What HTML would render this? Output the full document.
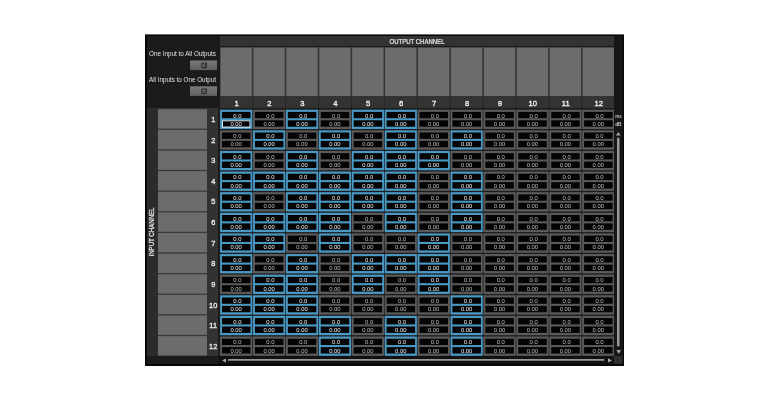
<!DOCTYPE html>
<html><head><meta charset="utf-8"><style>
html,body{margin:0;padding:0;background:#fff;width:770px;height:400px;overflow:hidden}
svg{display:block;font-family:"Liberation Sans",sans-serif;filter:blur(0.35px)}
</style></head><body>
<svg width="770" height="400" viewBox="0 0 770 400">
<defs><linearGradient id="btn" x1="0" y1="0" x2="0" y2="1"><stop offset="0" stop-color="#7a7a7a"/><stop offset="1" stop-color="#5e5e5e"/></linearGradient></defs>
<rect x="145" y="34.4" width="479" height="331.6" fill="#070707"/>
<rect x="147" y="36" width="475.5" height="328" fill="#1b1b1b"/>
<rect x="220" y="36" width="394" height="10" fill="#333333"/>
<text x="417" y="44" font-size="7" fill="#eeeeee" stroke="#e8e8e8" stroke-width="0.2" text-anchor="middle" textLength="55" lengthAdjust="spacingAndGlyphs">OUTPUT CHANNEL</text>
<rect x="220" y="47" width="394" height="49" fill="#343434"/>
<rect x="220" y="96" width="394" height="12" fill="#333333"/>
<rect x="220.5" y="47.6" width="31.32" height="48.4" fill="#6c6c6c"/>
<text x="236.56" y="105.7" font-size="7.6" fill="#eeeeee" stroke="#eeeeee" stroke-width="0.35" text-anchor="middle">1</text>
<rect x="253.42" y="47.6" width="31.32" height="48.4" fill="#6c6c6c"/>
<text x="269.48" y="105.7" font-size="7.6" fill="#eeeeee" stroke="#eeeeee" stroke-width="0.35" text-anchor="middle">2</text>
<rect x="252.42" y="96" width="0.8" height="12" fill="#262626"/>
<rect x="286.34" y="47.6" width="31.32" height="48.4" fill="#6c6c6c"/>
<text x="302.4" y="105.7" font-size="7.6" fill="#eeeeee" stroke="#eeeeee" stroke-width="0.35" text-anchor="middle">3</text>
<rect x="285.34" y="96" width="0.8" height="12" fill="#262626"/>
<rect x="319.26" y="47.6" width="31.32" height="48.4" fill="#6c6c6c"/>
<text x="335.32" y="105.7" font-size="7.6" fill="#eeeeee" stroke="#eeeeee" stroke-width="0.35" text-anchor="middle">4</text>
<rect x="318.26" y="96" width="0.8" height="12" fill="#262626"/>
<rect x="352.18" y="47.6" width="31.32" height="48.4" fill="#6c6c6c"/>
<text x="368.24" y="105.7" font-size="7.6" fill="#eeeeee" stroke="#eeeeee" stroke-width="0.35" text-anchor="middle">5</text>
<rect x="351.18" y="96" width="0.8" height="12" fill="#262626"/>
<rect x="385.1" y="47.6" width="31.32" height="48.4" fill="#6c6c6c"/>
<text x="401.16" y="105.7" font-size="7.6" fill="#eeeeee" stroke="#eeeeee" stroke-width="0.35" text-anchor="middle">6</text>
<rect x="384.1" y="96" width="0.8" height="12" fill="#262626"/>
<rect x="418.02" y="47.6" width="31.32" height="48.4" fill="#6c6c6c"/>
<text x="434.08" y="105.7" font-size="7.6" fill="#eeeeee" stroke="#eeeeee" stroke-width="0.35" text-anchor="middle">7</text>
<rect x="417.02" y="96" width="0.8" height="12" fill="#262626"/>
<rect x="450.94" y="47.6" width="31.32" height="48.4" fill="#6c6c6c"/>
<text x="467" y="105.7" font-size="7.6" fill="#eeeeee" stroke="#eeeeee" stroke-width="0.35" text-anchor="middle">8</text>
<rect x="449.94" y="96" width="0.8" height="12" fill="#262626"/>
<rect x="483.86" y="47.6" width="31.32" height="48.4" fill="#6c6c6c"/>
<text x="499.92" y="105.7" font-size="7.6" fill="#eeeeee" stroke="#eeeeee" stroke-width="0.35" text-anchor="middle">9</text>
<rect x="482.86" y="96" width="0.8" height="12" fill="#262626"/>
<rect x="516.78" y="47.6" width="31.32" height="48.4" fill="#6c6c6c"/>
<text x="532.84" y="105.7" font-size="7.6" fill="#eeeeee" stroke="#eeeeee" stroke-width="0.35" text-anchor="middle">10</text>
<rect x="515.78" y="96" width="0.8" height="12" fill="#262626"/>
<rect x="549.7" y="47.6" width="31.32" height="48.4" fill="#6c6c6c"/>
<text x="565.76" y="105.7" font-size="7.6" fill="#eeeeee" stroke="#eeeeee" stroke-width="0.35" text-anchor="middle">11</text>
<rect x="548.7" y="96" width="0.8" height="12" fill="#262626"/>
<rect x="582.62" y="47.6" width="31.32" height="48.4" fill="#6c6c6c"/>
<text x="598.68" y="105.7" font-size="7.6" fill="#eeeeee" stroke="#eeeeee" stroke-width="0.35" text-anchor="middle">12</text>
<rect x="581.62" y="96" width="0.8" height="12" fill="#262626"/>
<text x="216" y="56.3" font-size="7" fill="#e0e0e0" text-anchor="end" textLength="67" lengthAdjust="spacingAndGlyphs">One Input to All Outputs</text>
<text x="216" y="82.3" font-size="7" fill="#e0e0e0" text-anchor="end" textLength="67" lengthAdjust="spacingAndGlyphs">All Inputs to One Output</text>
<rect x="190" y="60.5" width="27" height="9.6" fill="url(#btn)"/>
<g stroke="#151515" stroke-width="0.85" fill="none"><path d="M204.3 63.2 h-2.4 v4.4 h4.4 v-2.4"/><path d="M203.9 66 l2.6 -2.6 M204.7 63 h1.8 v1.8"/></g>
<rect x="190" y="86.3" width="27" height="9.6" fill="url(#btn)"/>
<g stroke="#151515" stroke-width="0.85" fill="none"><path d="M204.3 89 h-2.4 v4.4 h4.4 v-2.4"/><path d="M203.9 91.8 l2.6 -2.6 M204.7 88.8 h1.8 v1.8"/></g>
<rect x="147" y="108" width="10.5" height="248" fill="#2b2b2b"/>
<text transform="translate(154.3 232) rotate(-90)" font-size="7" fill="#e8e8e8" stroke="#e8e8e8" stroke-width="0.25" text-anchor="middle" textLength="49" lengthAdjust="spacingAndGlyphs">INPUT CHANNEL</text>
<rect x="157.5" y="108" width="49.5" height="248" fill="#393939"/>
<rect x="207" y="108" width="11" height="248" fill="#323232"/>
<rect x="218" y="108" width="396" height="248" fill="#1c1c1c"/>
<rect x="158" y="109.3" width="49" height="19.32" fill="#6c6c6c"/>
<text x="213.2" y="122" font-size="7.4" fill="#e4e4e4" stroke="#e4e4e4" stroke-width="0.35" text-anchor="middle">1</text>
<rect x="220.1" y="109.7" width="32.2" height="19.3" fill="#4a98c4"/>
<rect x="222" y="111.9" width="28.5" height="6.3" fill="#040404"/>
<rect x="222" y="120.3" width="28.5" height="6.4" fill="#040404"/>
<text x="241.5" y="117.5" font-size="6.2" fill="#f2f2f2" text-anchor="end" textLength="8.2" lengthAdjust="spacingAndGlyphs">0.0</text>
<text x="241.8" y="125.7" font-size="6.2" fill="#f2f2f2" text-anchor="end" textLength="11.3" lengthAdjust="spacingAndGlyphs">0.00</text>
<rect x="253.02" y="109.7" width="32.2" height="19.3" fill="#5a5a5a"/>
<rect x="254.92" y="111.9" width="28.5" height="6.3" fill="#040404"/>
<rect x="254.92" y="120.3" width="28.5" height="6.4" fill="#040404"/>
<text x="274.42" y="117.5" font-size="6.2" fill="#c0c0c0" text-anchor="end" textLength="8.2" lengthAdjust="spacingAndGlyphs">0.0</text>
<text x="274.72" y="125.7" font-size="6.2" fill="#c0c0c0" text-anchor="end" textLength="11.3" lengthAdjust="spacingAndGlyphs">0.00</text>
<rect x="285.94" y="109.7" width="32.2" height="19.3" fill="#4a98c4"/>
<rect x="287.84" y="111.9" width="28.5" height="6.3" fill="#040404"/>
<rect x="287.84" y="120.3" width="28.5" height="6.4" fill="#040404"/>
<text x="307.34" y="117.5" font-size="6.2" fill="#f2f2f2" text-anchor="end" textLength="8.2" lengthAdjust="spacingAndGlyphs">0.0</text>
<text x="307.64" y="125.7" font-size="6.2" fill="#f2f2f2" text-anchor="end" textLength="11.3" lengthAdjust="spacingAndGlyphs">0.00</text>
<rect x="318.86" y="109.7" width="32.2" height="19.3" fill="#5a5a5a"/>
<rect x="320.76" y="111.9" width="28.5" height="6.3" fill="#040404"/>
<rect x="320.76" y="120.3" width="28.5" height="6.4" fill="#040404"/>
<text x="340.26" y="117.5" font-size="6.2" fill="#c0c0c0" text-anchor="end" textLength="8.2" lengthAdjust="spacingAndGlyphs">0.0</text>
<text x="340.56" y="125.7" font-size="6.2" fill="#c0c0c0" text-anchor="end" textLength="11.3" lengthAdjust="spacingAndGlyphs">0.00</text>
<rect x="351.78" y="109.7" width="32.2" height="19.3" fill="#4a98c4"/>
<rect x="353.68" y="111.9" width="28.5" height="6.3" fill="#040404"/>
<rect x="353.68" y="120.3" width="28.5" height="6.4" fill="#040404"/>
<text x="373.18" y="117.5" font-size="6.2" fill="#f2f2f2" text-anchor="end" textLength="8.2" lengthAdjust="spacingAndGlyphs">0.0</text>
<text x="373.48" y="125.7" font-size="6.2" fill="#f2f2f2" text-anchor="end" textLength="11.3" lengthAdjust="spacingAndGlyphs">0.00</text>
<rect x="384.7" y="109.7" width="32.2" height="19.3" fill="#4a98c4"/>
<rect x="386.6" y="111.9" width="28.5" height="6.3" fill="#040404"/>
<rect x="386.6" y="120.3" width="28.5" height="6.4" fill="#040404"/>
<text x="406.1" y="117.5" font-size="6.2" fill="#f2f2f2" text-anchor="end" textLength="8.2" lengthAdjust="spacingAndGlyphs">0.0</text>
<text x="406.4" y="125.7" font-size="6.2" fill="#f2f2f2" text-anchor="end" textLength="11.3" lengthAdjust="spacingAndGlyphs">0.00</text>
<rect x="417.62" y="109.7" width="32.2" height="19.3" fill="#5a5a5a"/>
<rect x="419.52" y="111.9" width="28.5" height="6.3" fill="#040404"/>
<rect x="419.52" y="120.3" width="28.5" height="6.4" fill="#040404"/>
<text x="439.02" y="117.5" font-size="6.2" fill="#c0c0c0" text-anchor="end" textLength="8.2" lengthAdjust="spacingAndGlyphs">0.0</text>
<text x="439.32" y="125.7" font-size="6.2" fill="#c0c0c0" text-anchor="end" textLength="11.3" lengthAdjust="spacingAndGlyphs">0.00</text>
<rect x="450.54" y="109.7" width="32.2" height="19.3" fill="#5a5a5a"/>
<rect x="452.44" y="111.9" width="28.5" height="6.3" fill="#040404"/>
<rect x="452.44" y="120.3" width="28.5" height="6.4" fill="#040404"/>
<text x="471.94" y="117.5" font-size="6.2" fill="#c0c0c0" text-anchor="end" textLength="8.2" lengthAdjust="spacingAndGlyphs">0.0</text>
<text x="472.24" y="125.7" font-size="6.2" fill="#c0c0c0" text-anchor="end" textLength="11.3" lengthAdjust="spacingAndGlyphs">0.00</text>
<rect x="483.46" y="109.7" width="32.2" height="19.3" fill="#5a5a5a"/>
<rect x="485.36" y="111.9" width="28.5" height="6.3" fill="#040404"/>
<rect x="485.36" y="120.3" width="28.5" height="6.4" fill="#040404"/>
<text x="504.86" y="117.5" font-size="6.2" fill="#c0c0c0" text-anchor="end" textLength="8.2" lengthAdjust="spacingAndGlyphs">0.0</text>
<text x="505.16" y="125.7" font-size="6.2" fill="#c0c0c0" text-anchor="end" textLength="11.3" lengthAdjust="spacingAndGlyphs">0.00</text>
<rect x="516.38" y="109.7" width="32.2" height="19.3" fill="#5a5a5a"/>
<rect x="518.28" y="111.9" width="28.5" height="6.3" fill="#040404"/>
<rect x="518.28" y="120.3" width="28.5" height="6.4" fill="#040404"/>
<text x="537.78" y="117.5" font-size="6.2" fill="#c0c0c0" text-anchor="end" textLength="8.2" lengthAdjust="spacingAndGlyphs">0.0</text>
<text x="538.08" y="125.7" font-size="6.2" fill="#c0c0c0" text-anchor="end" textLength="11.3" lengthAdjust="spacingAndGlyphs">0.00</text>
<rect x="549.3" y="109.7" width="32.2" height="19.3" fill="#5a5a5a"/>
<rect x="551.2" y="111.9" width="28.5" height="6.3" fill="#040404"/>
<rect x="551.2" y="120.3" width="28.5" height="6.4" fill="#040404"/>
<text x="570.7" y="117.5" font-size="6.2" fill="#c0c0c0" text-anchor="end" textLength="8.2" lengthAdjust="spacingAndGlyphs">0.0</text>
<text x="571" y="125.7" font-size="6.2" fill="#c0c0c0" text-anchor="end" textLength="11.3" lengthAdjust="spacingAndGlyphs">0.00</text>
<rect x="582.22" y="109.7" width="32.2" height="19.3" fill="#5a5a5a"/>
<rect x="584.12" y="111.9" width="28.5" height="6.3" fill="#040404"/>
<rect x="584.12" y="120.3" width="28.5" height="6.4" fill="#040404"/>
<text x="603.62" y="117.5" font-size="6.2" fill="#c0c0c0" text-anchor="end" textLength="8.2" lengthAdjust="spacingAndGlyphs">0.0</text>
<text x="603.92" y="125.7" font-size="6.2" fill="#c0c0c0" text-anchor="end" textLength="11.3" lengthAdjust="spacingAndGlyphs">0.00</text>
<rect x="158" y="129.92" width="49" height="19.32" fill="#6c6c6c"/>
<text x="213.2" y="142.62" font-size="7.4" fill="#e4e4e4" stroke="#e4e4e4" stroke-width="0.35" text-anchor="middle">2</text>
<rect x="220.1" y="130.32" width="32.2" height="19.3" fill="#5a5a5a"/>
<rect x="222" y="132.52" width="28.5" height="6.3" fill="#040404"/>
<rect x="222" y="140.92" width="28.5" height="6.4" fill="#040404"/>
<text x="241.5" y="138.12" font-size="6.2" fill="#c0c0c0" text-anchor="end" textLength="8.2" lengthAdjust="spacingAndGlyphs">0.0</text>
<text x="241.8" y="146.32" font-size="6.2" fill="#c0c0c0" text-anchor="end" textLength="11.3" lengthAdjust="spacingAndGlyphs">0.00</text>
<rect x="253.02" y="130.32" width="32.2" height="19.3" fill="#4a98c4"/>
<rect x="254.92" y="132.52" width="28.5" height="6.3" fill="#040404"/>
<rect x="254.92" y="140.92" width="28.5" height="6.4" fill="#040404"/>
<text x="274.42" y="138.12" font-size="6.2" fill="#f2f2f2" text-anchor="end" textLength="8.2" lengthAdjust="spacingAndGlyphs">0.0</text>
<text x="274.72" y="146.32" font-size="6.2" fill="#f2f2f2" text-anchor="end" textLength="11.3" lengthAdjust="spacingAndGlyphs">0.00</text>
<rect x="285.94" y="130.32" width="32.2" height="19.3" fill="#5a5a5a"/>
<rect x="287.84" y="132.52" width="28.5" height="6.3" fill="#040404"/>
<rect x="287.84" y="140.92" width="28.5" height="6.4" fill="#040404"/>
<text x="307.34" y="138.12" font-size="6.2" fill="#c0c0c0" text-anchor="end" textLength="8.2" lengthAdjust="spacingAndGlyphs">0.0</text>
<text x="307.64" y="146.32" font-size="6.2" fill="#c0c0c0" text-anchor="end" textLength="11.3" lengthAdjust="spacingAndGlyphs">0.00</text>
<rect x="318.86" y="130.32" width="32.2" height="19.3" fill="#4a98c4"/>
<rect x="320.76" y="132.52" width="28.5" height="6.3" fill="#040404"/>
<rect x="320.76" y="140.92" width="28.5" height="6.4" fill="#040404"/>
<text x="340.26" y="138.12" font-size="6.2" fill="#f2f2f2" text-anchor="end" textLength="8.2" lengthAdjust="spacingAndGlyphs">0.0</text>
<text x="340.56" y="146.32" font-size="6.2" fill="#f2f2f2" text-anchor="end" textLength="11.3" lengthAdjust="spacingAndGlyphs">0.00</text>
<rect x="351.78" y="130.32" width="32.2" height="19.3" fill="#5a5a5a"/>
<rect x="353.68" y="132.52" width="28.5" height="6.3" fill="#040404"/>
<rect x="353.68" y="140.92" width="28.5" height="6.4" fill="#040404"/>
<text x="373.18" y="138.12" font-size="6.2" fill="#c0c0c0" text-anchor="end" textLength="8.2" lengthAdjust="spacingAndGlyphs">0.0</text>
<text x="373.48" y="146.32" font-size="6.2" fill="#c0c0c0" text-anchor="end" textLength="11.3" lengthAdjust="spacingAndGlyphs">0.00</text>
<rect x="384.7" y="130.32" width="32.2" height="19.3" fill="#4a98c4"/>
<rect x="386.6" y="132.52" width="28.5" height="6.3" fill="#040404"/>
<rect x="386.6" y="140.92" width="28.5" height="6.4" fill="#040404"/>
<text x="406.1" y="138.12" font-size="6.2" fill="#f2f2f2" text-anchor="end" textLength="8.2" lengthAdjust="spacingAndGlyphs">0.0</text>
<text x="406.4" y="146.32" font-size="6.2" fill="#f2f2f2" text-anchor="end" textLength="11.3" lengthAdjust="spacingAndGlyphs">0.00</text>
<rect x="417.62" y="130.32" width="32.2" height="19.3" fill="#5a5a5a"/>
<rect x="419.52" y="132.52" width="28.5" height="6.3" fill="#040404"/>
<rect x="419.52" y="140.92" width="28.5" height="6.4" fill="#040404"/>
<text x="439.02" y="138.12" font-size="6.2" fill="#c0c0c0" text-anchor="end" textLength="8.2" lengthAdjust="spacingAndGlyphs">0.0</text>
<text x="439.32" y="146.32" font-size="6.2" fill="#c0c0c0" text-anchor="end" textLength="11.3" lengthAdjust="spacingAndGlyphs">0.00</text>
<rect x="450.54" y="130.32" width="32.2" height="19.3" fill="#4a98c4"/>
<rect x="452.44" y="132.52" width="28.5" height="6.3" fill="#040404"/>
<rect x="452.44" y="140.92" width="28.5" height="6.4" fill="#040404"/>
<text x="471.94" y="138.12" font-size="6.2" fill="#f2f2f2" text-anchor="end" textLength="8.2" lengthAdjust="spacingAndGlyphs">0.0</text>
<text x="472.24" y="146.32" font-size="6.2" fill="#f2f2f2" text-anchor="end" textLength="11.3" lengthAdjust="spacingAndGlyphs">0.00</text>
<rect x="483.46" y="130.32" width="32.2" height="19.3" fill="#5a5a5a"/>
<rect x="485.36" y="132.52" width="28.5" height="6.3" fill="#040404"/>
<rect x="485.36" y="140.92" width="28.5" height="6.4" fill="#040404"/>
<text x="504.86" y="138.12" font-size="6.2" fill="#c0c0c0" text-anchor="end" textLength="8.2" lengthAdjust="spacingAndGlyphs">0.0</text>
<text x="505.16" y="146.32" font-size="6.2" fill="#c0c0c0" text-anchor="end" textLength="11.3" lengthAdjust="spacingAndGlyphs">0.00</text>
<rect x="516.38" y="130.32" width="32.2" height="19.3" fill="#5a5a5a"/>
<rect x="518.28" y="132.52" width="28.5" height="6.3" fill="#040404"/>
<rect x="518.28" y="140.92" width="28.5" height="6.4" fill="#040404"/>
<text x="537.78" y="138.12" font-size="6.2" fill="#c0c0c0" text-anchor="end" textLength="8.2" lengthAdjust="spacingAndGlyphs">0.0</text>
<text x="538.08" y="146.32" font-size="6.2" fill="#c0c0c0" text-anchor="end" textLength="11.3" lengthAdjust="spacingAndGlyphs">0.00</text>
<rect x="549.3" y="130.32" width="32.2" height="19.3" fill="#5a5a5a"/>
<rect x="551.2" y="132.52" width="28.5" height="6.3" fill="#040404"/>
<rect x="551.2" y="140.92" width="28.5" height="6.4" fill="#040404"/>
<text x="570.7" y="138.12" font-size="6.2" fill="#c0c0c0" text-anchor="end" textLength="8.2" lengthAdjust="spacingAndGlyphs">0.0</text>
<text x="571" y="146.32" font-size="6.2" fill="#c0c0c0" text-anchor="end" textLength="11.3" lengthAdjust="spacingAndGlyphs">0.00</text>
<rect x="582.22" y="130.32" width="32.2" height="19.3" fill="#5a5a5a"/>
<rect x="584.12" y="132.52" width="28.5" height="6.3" fill="#040404"/>
<rect x="584.12" y="140.92" width="28.5" height="6.4" fill="#040404"/>
<text x="603.62" y="138.12" font-size="6.2" fill="#c0c0c0" text-anchor="end" textLength="8.2" lengthAdjust="spacingAndGlyphs">0.0</text>
<text x="603.92" y="146.32" font-size="6.2" fill="#c0c0c0" text-anchor="end" textLength="11.3" lengthAdjust="spacingAndGlyphs">0.00</text>
<rect x="158" y="150.54" width="49" height="19.32" fill="#6c6c6c"/>
<text x="213.2" y="163.24" font-size="7.4" fill="#e4e4e4" stroke="#e4e4e4" stroke-width="0.35" text-anchor="middle">3</text>
<rect x="220.1" y="150.94" width="32.2" height="19.3" fill="#4a98c4"/>
<rect x="222" y="153.14" width="28.5" height="6.3" fill="#040404"/>
<rect x="222" y="161.54" width="28.5" height="6.4" fill="#040404"/>
<text x="241.5" y="158.74" font-size="6.2" fill="#f2f2f2" text-anchor="end" textLength="8.2" lengthAdjust="spacingAndGlyphs">0.0</text>
<text x="241.8" y="166.94" font-size="6.2" fill="#f2f2f2" text-anchor="end" textLength="11.3" lengthAdjust="spacingAndGlyphs">0.00</text>
<rect x="253.02" y="150.94" width="32.2" height="19.3" fill="#5a5a5a"/>
<rect x="254.92" y="153.14" width="28.5" height="6.3" fill="#040404"/>
<rect x="254.92" y="161.54" width="28.5" height="6.4" fill="#040404"/>
<text x="274.42" y="158.74" font-size="6.2" fill="#c0c0c0" text-anchor="end" textLength="8.2" lengthAdjust="spacingAndGlyphs">0.0</text>
<text x="274.72" y="166.94" font-size="6.2" fill="#c0c0c0" text-anchor="end" textLength="11.3" lengthAdjust="spacingAndGlyphs">0.00</text>
<rect x="285.94" y="150.94" width="32.2" height="19.3" fill="#4a98c4"/>
<rect x="287.84" y="153.14" width="28.5" height="6.3" fill="#040404"/>
<rect x="287.84" y="161.54" width="28.5" height="6.4" fill="#040404"/>
<text x="307.34" y="158.74" font-size="6.2" fill="#f2f2f2" text-anchor="end" textLength="8.2" lengthAdjust="spacingAndGlyphs">0.0</text>
<text x="307.64" y="166.94" font-size="6.2" fill="#f2f2f2" text-anchor="end" textLength="11.3" lengthAdjust="spacingAndGlyphs">0.00</text>
<rect x="318.86" y="150.94" width="32.2" height="19.3" fill="#5a5a5a"/>
<rect x="320.76" y="153.14" width="28.5" height="6.3" fill="#040404"/>
<rect x="320.76" y="161.54" width="28.5" height="6.4" fill="#040404"/>
<text x="340.26" y="158.74" font-size="6.2" fill="#c0c0c0" text-anchor="end" textLength="8.2" lengthAdjust="spacingAndGlyphs">0.0</text>
<text x="340.56" y="166.94" font-size="6.2" fill="#c0c0c0" text-anchor="end" textLength="11.3" lengthAdjust="spacingAndGlyphs">0.00</text>
<rect x="351.78" y="150.94" width="32.2" height="19.3" fill="#4a98c4"/>
<rect x="353.68" y="153.14" width="28.5" height="6.3" fill="#040404"/>
<rect x="353.68" y="161.54" width="28.5" height="6.4" fill="#040404"/>
<text x="373.18" y="158.74" font-size="6.2" fill="#f2f2f2" text-anchor="end" textLength="8.2" lengthAdjust="spacingAndGlyphs">0.0</text>
<text x="373.48" y="166.94" font-size="6.2" fill="#f2f2f2" text-anchor="end" textLength="11.3" lengthAdjust="spacingAndGlyphs">0.00</text>
<rect x="384.7" y="150.94" width="32.2" height="19.3" fill="#4a98c4"/>
<rect x="386.6" y="153.14" width="28.5" height="6.3" fill="#040404"/>
<rect x="386.6" y="161.54" width="28.5" height="6.4" fill="#040404"/>
<text x="406.1" y="158.74" font-size="6.2" fill="#f2f2f2" text-anchor="end" textLength="8.2" lengthAdjust="spacingAndGlyphs">0.0</text>
<text x="406.4" y="166.94" font-size="6.2" fill="#f2f2f2" text-anchor="end" textLength="11.3" lengthAdjust="spacingAndGlyphs">0.00</text>
<rect x="417.62" y="150.94" width="32.2" height="19.3" fill="#4a98c4"/>
<rect x="419.52" y="153.14" width="28.5" height="6.3" fill="#040404"/>
<rect x="419.52" y="161.54" width="28.5" height="6.4" fill="#040404"/>
<text x="439.02" y="158.74" font-size="6.2" fill="#f2f2f2" text-anchor="end" textLength="8.2" lengthAdjust="spacingAndGlyphs">0.0</text>
<text x="439.32" y="166.94" font-size="6.2" fill="#f2f2f2" text-anchor="end" textLength="11.3" lengthAdjust="spacingAndGlyphs">0.00</text>
<rect x="450.54" y="150.94" width="32.2" height="19.3" fill="#5a5a5a"/>
<rect x="452.44" y="153.14" width="28.5" height="6.3" fill="#040404"/>
<rect x="452.44" y="161.54" width="28.5" height="6.4" fill="#040404"/>
<text x="471.94" y="158.74" font-size="6.2" fill="#c0c0c0" text-anchor="end" textLength="8.2" lengthAdjust="spacingAndGlyphs">0.0</text>
<text x="472.24" y="166.94" font-size="6.2" fill="#c0c0c0" text-anchor="end" textLength="11.3" lengthAdjust="spacingAndGlyphs">0.00</text>
<rect x="483.46" y="150.94" width="32.2" height="19.3" fill="#5a5a5a"/>
<rect x="485.36" y="153.14" width="28.5" height="6.3" fill="#040404"/>
<rect x="485.36" y="161.54" width="28.5" height="6.4" fill="#040404"/>
<text x="504.86" y="158.74" font-size="6.2" fill="#c0c0c0" text-anchor="end" textLength="8.2" lengthAdjust="spacingAndGlyphs">0.0</text>
<text x="505.16" y="166.94" font-size="6.2" fill="#c0c0c0" text-anchor="end" textLength="11.3" lengthAdjust="spacingAndGlyphs">0.00</text>
<rect x="516.38" y="150.94" width="32.2" height="19.3" fill="#5a5a5a"/>
<rect x="518.28" y="153.14" width="28.5" height="6.3" fill="#040404"/>
<rect x="518.28" y="161.54" width="28.5" height="6.4" fill="#040404"/>
<text x="537.78" y="158.74" font-size="6.2" fill="#c0c0c0" text-anchor="end" textLength="8.2" lengthAdjust="spacingAndGlyphs">0.0</text>
<text x="538.08" y="166.94" font-size="6.2" fill="#c0c0c0" text-anchor="end" textLength="11.3" lengthAdjust="spacingAndGlyphs">0.00</text>
<rect x="549.3" y="150.94" width="32.2" height="19.3" fill="#5a5a5a"/>
<rect x="551.2" y="153.14" width="28.5" height="6.3" fill="#040404"/>
<rect x="551.2" y="161.54" width="28.5" height="6.4" fill="#040404"/>
<text x="570.7" y="158.74" font-size="6.2" fill="#c0c0c0" text-anchor="end" textLength="8.2" lengthAdjust="spacingAndGlyphs">0.0</text>
<text x="571" y="166.94" font-size="6.2" fill="#c0c0c0" text-anchor="end" textLength="11.3" lengthAdjust="spacingAndGlyphs">0.00</text>
<rect x="582.22" y="150.94" width="32.2" height="19.3" fill="#5a5a5a"/>
<rect x="584.12" y="153.14" width="28.5" height="6.3" fill="#040404"/>
<rect x="584.12" y="161.54" width="28.5" height="6.4" fill="#040404"/>
<text x="603.62" y="158.74" font-size="6.2" fill="#c0c0c0" text-anchor="end" textLength="8.2" lengthAdjust="spacingAndGlyphs">0.0</text>
<text x="603.92" y="166.94" font-size="6.2" fill="#c0c0c0" text-anchor="end" textLength="11.3" lengthAdjust="spacingAndGlyphs">0.00</text>
<rect x="158" y="171.16" width="49" height="19.32" fill="#6c6c6c"/>
<text x="213.2" y="183.86" font-size="7.4" fill="#e4e4e4" stroke="#e4e4e4" stroke-width="0.35" text-anchor="middle">4</text>
<rect x="220.1" y="171.56" width="32.2" height="19.3" fill="#4a98c4"/>
<rect x="222" y="173.76" width="28.5" height="6.3" fill="#040404"/>
<rect x="222" y="182.16" width="28.5" height="6.4" fill="#040404"/>
<text x="241.5" y="179.36" font-size="6.2" fill="#f2f2f2" text-anchor="end" textLength="8.2" lengthAdjust="spacingAndGlyphs">0.0</text>
<text x="241.8" y="187.56" font-size="6.2" fill="#f2f2f2" text-anchor="end" textLength="11.3" lengthAdjust="spacingAndGlyphs">0.00</text>
<rect x="253.02" y="171.56" width="32.2" height="19.3" fill="#4a98c4"/>
<rect x="254.92" y="173.76" width="28.5" height="6.3" fill="#040404"/>
<rect x="254.92" y="182.16" width="28.5" height="6.4" fill="#040404"/>
<text x="274.42" y="179.36" font-size="6.2" fill="#f2f2f2" text-anchor="end" textLength="8.2" lengthAdjust="spacingAndGlyphs">0.0</text>
<text x="274.72" y="187.56" font-size="6.2" fill="#f2f2f2" text-anchor="end" textLength="11.3" lengthAdjust="spacingAndGlyphs">0.00</text>
<rect x="285.94" y="171.56" width="32.2" height="19.3" fill="#4a98c4"/>
<rect x="287.84" y="173.76" width="28.5" height="6.3" fill="#040404"/>
<rect x="287.84" y="182.16" width="28.5" height="6.4" fill="#040404"/>
<text x="307.34" y="179.36" font-size="6.2" fill="#f2f2f2" text-anchor="end" textLength="8.2" lengthAdjust="spacingAndGlyphs">0.0</text>
<text x="307.64" y="187.56" font-size="6.2" fill="#f2f2f2" text-anchor="end" textLength="11.3" lengthAdjust="spacingAndGlyphs">0.00</text>
<rect x="318.86" y="171.56" width="32.2" height="19.3" fill="#4a98c4"/>
<rect x="320.76" y="173.76" width="28.5" height="6.3" fill="#040404"/>
<rect x="320.76" y="182.16" width="28.5" height="6.4" fill="#040404"/>
<text x="340.26" y="179.36" font-size="6.2" fill="#f2f2f2" text-anchor="end" textLength="8.2" lengthAdjust="spacingAndGlyphs">0.0</text>
<text x="340.56" y="187.56" font-size="6.2" fill="#f2f2f2" text-anchor="end" textLength="11.3" lengthAdjust="spacingAndGlyphs">0.00</text>
<rect x="351.78" y="171.56" width="32.2" height="19.3" fill="#4a98c4"/>
<rect x="353.68" y="173.76" width="28.5" height="6.3" fill="#040404"/>
<rect x="353.68" y="182.16" width="28.5" height="6.4" fill="#040404"/>
<text x="373.18" y="179.36" font-size="6.2" fill="#f2f2f2" text-anchor="end" textLength="8.2" lengthAdjust="spacingAndGlyphs">0.0</text>
<text x="373.48" y="187.56" font-size="6.2" fill="#f2f2f2" text-anchor="end" textLength="11.3" lengthAdjust="spacingAndGlyphs">0.00</text>
<rect x="384.7" y="171.56" width="32.2" height="19.3" fill="#4a98c4"/>
<rect x="386.6" y="173.76" width="28.5" height="6.3" fill="#040404"/>
<rect x="386.6" y="182.16" width="28.5" height="6.4" fill="#040404"/>
<text x="406.1" y="179.36" font-size="6.2" fill="#f2f2f2" text-anchor="end" textLength="8.2" lengthAdjust="spacingAndGlyphs">0.0</text>
<text x="406.4" y="187.56" font-size="6.2" fill="#f2f2f2" text-anchor="end" textLength="11.3" lengthAdjust="spacingAndGlyphs">0.00</text>
<rect x="417.62" y="171.56" width="32.2" height="19.3" fill="#5a5a5a"/>
<rect x="419.52" y="173.76" width="28.5" height="6.3" fill="#040404"/>
<rect x="419.52" y="182.16" width="28.5" height="6.4" fill="#040404"/>
<text x="439.02" y="179.36" font-size="6.2" fill="#c0c0c0" text-anchor="end" textLength="8.2" lengthAdjust="spacingAndGlyphs">0.0</text>
<text x="439.32" y="187.56" font-size="6.2" fill="#c0c0c0" text-anchor="end" textLength="11.3" lengthAdjust="spacingAndGlyphs">0.00</text>
<rect x="450.54" y="171.56" width="32.2" height="19.3" fill="#4a98c4"/>
<rect x="452.44" y="173.76" width="28.5" height="6.3" fill="#040404"/>
<rect x="452.44" y="182.16" width="28.5" height="6.4" fill="#040404"/>
<text x="471.94" y="179.36" font-size="6.2" fill="#f2f2f2" text-anchor="end" textLength="8.2" lengthAdjust="spacingAndGlyphs">0.0</text>
<text x="472.24" y="187.56" font-size="6.2" fill="#f2f2f2" text-anchor="end" textLength="11.3" lengthAdjust="spacingAndGlyphs">0.00</text>
<rect x="483.46" y="171.56" width="32.2" height="19.3" fill="#5a5a5a"/>
<rect x="485.36" y="173.76" width="28.5" height="6.3" fill="#040404"/>
<rect x="485.36" y="182.16" width="28.5" height="6.4" fill="#040404"/>
<text x="504.86" y="179.36" font-size="6.2" fill="#c0c0c0" text-anchor="end" textLength="8.2" lengthAdjust="spacingAndGlyphs">0.0</text>
<text x="505.16" y="187.56" font-size="6.2" fill="#c0c0c0" text-anchor="end" textLength="11.3" lengthAdjust="spacingAndGlyphs">0.00</text>
<rect x="516.38" y="171.56" width="32.2" height="19.3" fill="#5a5a5a"/>
<rect x="518.28" y="173.76" width="28.5" height="6.3" fill="#040404"/>
<rect x="518.28" y="182.16" width="28.5" height="6.4" fill="#040404"/>
<text x="537.78" y="179.36" font-size="6.2" fill="#c0c0c0" text-anchor="end" textLength="8.2" lengthAdjust="spacingAndGlyphs">0.0</text>
<text x="538.08" y="187.56" font-size="6.2" fill="#c0c0c0" text-anchor="end" textLength="11.3" lengthAdjust="spacingAndGlyphs">0.00</text>
<rect x="549.3" y="171.56" width="32.2" height="19.3" fill="#5a5a5a"/>
<rect x="551.2" y="173.76" width="28.5" height="6.3" fill="#040404"/>
<rect x="551.2" y="182.16" width="28.5" height="6.4" fill="#040404"/>
<text x="570.7" y="179.36" font-size="6.2" fill="#c0c0c0" text-anchor="end" textLength="8.2" lengthAdjust="spacingAndGlyphs">0.0</text>
<text x="571" y="187.56" font-size="6.2" fill="#c0c0c0" text-anchor="end" textLength="11.3" lengthAdjust="spacingAndGlyphs">0.00</text>
<rect x="582.22" y="171.56" width="32.2" height="19.3" fill="#5a5a5a"/>
<rect x="584.12" y="173.76" width="28.5" height="6.3" fill="#040404"/>
<rect x="584.12" y="182.16" width="28.5" height="6.4" fill="#040404"/>
<text x="603.62" y="179.36" font-size="6.2" fill="#c0c0c0" text-anchor="end" textLength="8.2" lengthAdjust="spacingAndGlyphs">0.0</text>
<text x="603.92" y="187.56" font-size="6.2" fill="#c0c0c0" text-anchor="end" textLength="11.3" lengthAdjust="spacingAndGlyphs">0.00</text>
<rect x="158" y="191.78" width="49" height="19.32" fill="#6c6c6c"/>
<text x="213.2" y="204.48" font-size="7.4" fill="#e4e4e4" stroke="#e4e4e4" stroke-width="0.35" text-anchor="middle">5</text>
<rect x="220.1" y="192.18" width="32.2" height="19.3" fill="#4a98c4"/>
<rect x="222" y="194.38" width="28.5" height="6.3" fill="#040404"/>
<rect x="222" y="202.78" width="28.5" height="6.4" fill="#040404"/>
<text x="241.5" y="199.98" font-size="6.2" fill="#f2f2f2" text-anchor="end" textLength="8.2" lengthAdjust="spacingAndGlyphs">0.0</text>
<text x="241.8" y="208.18" font-size="6.2" fill="#f2f2f2" text-anchor="end" textLength="11.3" lengthAdjust="spacingAndGlyphs">0.00</text>
<rect x="253.02" y="192.18" width="32.2" height="19.3" fill="#5a5a5a"/>
<rect x="254.92" y="194.38" width="28.5" height="6.3" fill="#040404"/>
<rect x="254.92" y="202.78" width="28.5" height="6.4" fill="#040404"/>
<text x="274.42" y="199.98" font-size="6.2" fill="#c0c0c0" text-anchor="end" textLength="8.2" lengthAdjust="spacingAndGlyphs">0.0</text>
<text x="274.72" y="208.18" font-size="6.2" fill="#c0c0c0" text-anchor="end" textLength="11.3" lengthAdjust="spacingAndGlyphs">0.00</text>
<rect x="285.94" y="192.18" width="32.2" height="19.3" fill="#4a98c4"/>
<rect x="287.84" y="194.38" width="28.5" height="6.3" fill="#040404"/>
<rect x="287.84" y="202.78" width="28.5" height="6.4" fill="#040404"/>
<text x="307.34" y="199.98" font-size="6.2" fill="#f2f2f2" text-anchor="end" textLength="8.2" lengthAdjust="spacingAndGlyphs">0.0</text>
<text x="307.64" y="208.18" font-size="6.2" fill="#f2f2f2" text-anchor="end" textLength="11.3" lengthAdjust="spacingAndGlyphs">0.00</text>
<rect x="318.86" y="192.18" width="32.2" height="19.3" fill="#4a98c4"/>
<rect x="320.76" y="194.38" width="28.5" height="6.3" fill="#040404"/>
<rect x="320.76" y="202.78" width="28.5" height="6.4" fill="#040404"/>
<text x="340.26" y="199.98" font-size="6.2" fill="#f2f2f2" text-anchor="end" textLength="8.2" lengthAdjust="spacingAndGlyphs">0.0</text>
<text x="340.56" y="208.18" font-size="6.2" fill="#f2f2f2" text-anchor="end" textLength="11.3" lengthAdjust="spacingAndGlyphs">0.00</text>
<rect x="351.78" y="192.18" width="32.2" height="19.3" fill="#4a98c4"/>
<rect x="353.68" y="194.38" width="28.5" height="6.3" fill="#040404"/>
<rect x="353.68" y="202.78" width="28.5" height="6.4" fill="#040404"/>
<text x="373.18" y="199.98" font-size="6.2" fill="#f2f2f2" text-anchor="end" textLength="8.2" lengthAdjust="spacingAndGlyphs">0.0</text>
<text x="373.48" y="208.18" font-size="6.2" fill="#f2f2f2" text-anchor="end" textLength="11.3" lengthAdjust="spacingAndGlyphs">0.00</text>
<rect x="384.7" y="192.18" width="32.2" height="19.3" fill="#4a98c4"/>
<rect x="386.6" y="194.38" width="28.5" height="6.3" fill="#040404"/>
<rect x="386.6" y="202.78" width="28.5" height="6.4" fill="#040404"/>
<text x="406.1" y="199.98" font-size="6.2" fill="#f2f2f2" text-anchor="end" textLength="8.2" lengthAdjust="spacingAndGlyphs">0.0</text>
<text x="406.4" y="208.18" font-size="6.2" fill="#f2f2f2" text-anchor="end" textLength="11.3" lengthAdjust="spacingAndGlyphs">0.00</text>
<rect x="417.62" y="192.18" width="32.2" height="19.3" fill="#5a5a5a"/>
<rect x="419.52" y="194.38" width="28.5" height="6.3" fill="#040404"/>
<rect x="419.52" y="202.78" width="28.5" height="6.4" fill="#040404"/>
<text x="439.02" y="199.98" font-size="6.2" fill="#c0c0c0" text-anchor="end" textLength="8.2" lengthAdjust="spacingAndGlyphs">0.0</text>
<text x="439.32" y="208.18" font-size="6.2" fill="#c0c0c0" text-anchor="end" textLength="11.3" lengthAdjust="spacingAndGlyphs">0.00</text>
<rect x="450.54" y="192.18" width="32.2" height="19.3" fill="#4a98c4"/>
<rect x="452.44" y="194.38" width="28.5" height="6.3" fill="#040404"/>
<rect x="452.44" y="202.78" width="28.5" height="6.4" fill="#040404"/>
<text x="471.94" y="199.98" font-size="6.2" fill="#f2f2f2" text-anchor="end" textLength="8.2" lengthAdjust="spacingAndGlyphs">0.0</text>
<text x="472.24" y="208.18" font-size="6.2" fill="#f2f2f2" text-anchor="end" textLength="11.3" lengthAdjust="spacingAndGlyphs">0.00</text>
<rect x="483.46" y="192.18" width="32.2" height="19.3" fill="#5a5a5a"/>
<rect x="485.36" y="194.38" width="28.5" height="6.3" fill="#040404"/>
<rect x="485.36" y="202.78" width="28.5" height="6.4" fill="#040404"/>
<text x="504.86" y="199.98" font-size="6.2" fill="#c0c0c0" text-anchor="end" textLength="8.2" lengthAdjust="spacingAndGlyphs">0.0</text>
<text x="505.16" y="208.18" font-size="6.2" fill="#c0c0c0" text-anchor="end" textLength="11.3" lengthAdjust="spacingAndGlyphs">0.00</text>
<rect x="516.38" y="192.18" width="32.2" height="19.3" fill="#5a5a5a"/>
<rect x="518.28" y="194.38" width="28.5" height="6.3" fill="#040404"/>
<rect x="518.28" y="202.78" width="28.5" height="6.4" fill="#040404"/>
<text x="537.78" y="199.98" font-size="6.2" fill="#c0c0c0" text-anchor="end" textLength="8.2" lengthAdjust="spacingAndGlyphs">0.0</text>
<text x="538.08" y="208.18" font-size="6.2" fill="#c0c0c0" text-anchor="end" textLength="11.3" lengthAdjust="spacingAndGlyphs">0.00</text>
<rect x="549.3" y="192.18" width="32.2" height="19.3" fill="#5a5a5a"/>
<rect x="551.2" y="194.38" width="28.5" height="6.3" fill="#040404"/>
<rect x="551.2" y="202.78" width="28.5" height="6.4" fill="#040404"/>
<text x="570.7" y="199.98" font-size="6.2" fill="#c0c0c0" text-anchor="end" textLength="8.2" lengthAdjust="spacingAndGlyphs">0.0</text>
<text x="571" y="208.18" font-size="6.2" fill="#c0c0c0" text-anchor="end" textLength="11.3" lengthAdjust="spacingAndGlyphs">0.00</text>
<rect x="582.22" y="192.18" width="32.2" height="19.3" fill="#5a5a5a"/>
<rect x="584.12" y="194.38" width="28.5" height="6.3" fill="#040404"/>
<rect x="584.12" y="202.78" width="28.5" height="6.4" fill="#040404"/>
<text x="603.62" y="199.98" font-size="6.2" fill="#c0c0c0" text-anchor="end" textLength="8.2" lengthAdjust="spacingAndGlyphs">0.0</text>
<text x="603.92" y="208.18" font-size="6.2" fill="#c0c0c0" text-anchor="end" textLength="11.3" lengthAdjust="spacingAndGlyphs">0.00</text>
<rect x="158" y="212.4" width="49" height="19.32" fill="#6c6c6c"/>
<text x="213.2" y="225.1" font-size="7.4" fill="#e4e4e4" stroke="#e4e4e4" stroke-width="0.35" text-anchor="middle">6</text>
<rect x="220.1" y="212.8" width="32.2" height="19.3" fill="#4a98c4"/>
<rect x="222" y="215" width="28.5" height="6.3" fill="#040404"/>
<rect x="222" y="223.4" width="28.5" height="6.4" fill="#040404"/>
<text x="241.5" y="220.6" font-size="6.2" fill="#f2f2f2" text-anchor="end" textLength="8.2" lengthAdjust="spacingAndGlyphs">0.0</text>
<text x="241.8" y="228.8" font-size="6.2" fill="#f2f2f2" text-anchor="end" textLength="11.3" lengthAdjust="spacingAndGlyphs">0.00</text>
<rect x="253.02" y="212.8" width="32.2" height="19.3" fill="#4a98c4"/>
<rect x="254.92" y="215" width="28.5" height="6.3" fill="#040404"/>
<rect x="254.92" y="223.4" width="28.5" height="6.4" fill="#040404"/>
<text x="274.42" y="220.6" font-size="6.2" fill="#f2f2f2" text-anchor="end" textLength="8.2" lengthAdjust="spacingAndGlyphs">0.0</text>
<text x="274.72" y="228.8" font-size="6.2" fill="#f2f2f2" text-anchor="end" textLength="11.3" lengthAdjust="spacingAndGlyphs">0.00</text>
<rect x="285.94" y="212.8" width="32.2" height="19.3" fill="#4a98c4"/>
<rect x="287.84" y="215" width="28.5" height="6.3" fill="#040404"/>
<rect x="287.84" y="223.4" width="28.5" height="6.4" fill="#040404"/>
<text x="307.34" y="220.6" font-size="6.2" fill="#f2f2f2" text-anchor="end" textLength="8.2" lengthAdjust="spacingAndGlyphs">0.0</text>
<text x="307.64" y="228.8" font-size="6.2" fill="#f2f2f2" text-anchor="end" textLength="11.3" lengthAdjust="spacingAndGlyphs">0.00</text>
<rect x="318.86" y="212.8" width="32.2" height="19.3" fill="#4a98c4"/>
<rect x="320.76" y="215" width="28.5" height="6.3" fill="#040404"/>
<rect x="320.76" y="223.4" width="28.5" height="6.4" fill="#040404"/>
<text x="340.26" y="220.6" font-size="6.2" fill="#f2f2f2" text-anchor="end" textLength="8.2" lengthAdjust="spacingAndGlyphs">0.0</text>
<text x="340.56" y="228.8" font-size="6.2" fill="#f2f2f2" text-anchor="end" textLength="11.3" lengthAdjust="spacingAndGlyphs">0.00</text>
<rect x="351.78" y="212.8" width="32.2" height="19.3" fill="#5a5a5a"/>
<rect x="353.68" y="215" width="28.5" height="6.3" fill="#040404"/>
<rect x="353.68" y="223.4" width="28.5" height="6.4" fill="#040404"/>
<text x="373.18" y="220.6" font-size="6.2" fill="#c0c0c0" text-anchor="end" textLength="8.2" lengthAdjust="spacingAndGlyphs">0.0</text>
<text x="373.48" y="228.8" font-size="6.2" fill="#c0c0c0" text-anchor="end" textLength="11.3" lengthAdjust="spacingAndGlyphs">0.00</text>
<rect x="384.7" y="212.8" width="32.2" height="19.3" fill="#4a98c4"/>
<rect x="386.6" y="215" width="28.5" height="6.3" fill="#040404"/>
<rect x="386.6" y="223.4" width="28.5" height="6.4" fill="#040404"/>
<text x="406.1" y="220.6" font-size="6.2" fill="#f2f2f2" text-anchor="end" textLength="8.2" lengthAdjust="spacingAndGlyphs">0.0</text>
<text x="406.4" y="228.8" font-size="6.2" fill="#f2f2f2" text-anchor="end" textLength="11.3" lengthAdjust="spacingAndGlyphs">0.00</text>
<rect x="417.62" y="212.8" width="32.2" height="19.3" fill="#5a5a5a"/>
<rect x="419.52" y="215" width="28.5" height="6.3" fill="#040404"/>
<rect x="419.52" y="223.4" width="28.5" height="6.4" fill="#040404"/>
<text x="439.02" y="220.6" font-size="6.2" fill="#c0c0c0" text-anchor="end" textLength="8.2" lengthAdjust="spacingAndGlyphs">0.0</text>
<text x="439.32" y="228.8" font-size="6.2" fill="#c0c0c0" text-anchor="end" textLength="11.3" lengthAdjust="spacingAndGlyphs">0.00</text>
<rect x="450.54" y="212.8" width="32.2" height="19.3" fill="#4a98c4"/>
<rect x="452.44" y="215" width="28.5" height="6.3" fill="#040404"/>
<rect x="452.44" y="223.4" width="28.5" height="6.4" fill="#040404"/>
<text x="471.94" y="220.6" font-size="6.2" fill="#f2f2f2" text-anchor="end" textLength="8.2" lengthAdjust="spacingAndGlyphs">0.0</text>
<text x="472.24" y="228.8" font-size="6.2" fill="#f2f2f2" text-anchor="end" textLength="11.3" lengthAdjust="spacingAndGlyphs">0.00</text>
<rect x="483.46" y="212.8" width="32.2" height="19.3" fill="#5a5a5a"/>
<rect x="485.36" y="215" width="28.5" height="6.3" fill="#040404"/>
<rect x="485.36" y="223.4" width="28.5" height="6.4" fill="#040404"/>
<text x="504.86" y="220.6" font-size="6.2" fill="#c0c0c0" text-anchor="end" textLength="8.2" lengthAdjust="spacingAndGlyphs">0.0</text>
<text x="505.16" y="228.8" font-size="6.2" fill="#c0c0c0" text-anchor="end" textLength="11.3" lengthAdjust="spacingAndGlyphs">0.00</text>
<rect x="516.38" y="212.8" width="32.2" height="19.3" fill="#5a5a5a"/>
<rect x="518.28" y="215" width="28.5" height="6.3" fill="#040404"/>
<rect x="518.28" y="223.4" width="28.5" height="6.4" fill="#040404"/>
<text x="537.78" y="220.6" font-size="6.2" fill="#c0c0c0" text-anchor="end" textLength="8.2" lengthAdjust="spacingAndGlyphs">0.0</text>
<text x="538.08" y="228.8" font-size="6.2" fill="#c0c0c0" text-anchor="end" textLength="11.3" lengthAdjust="spacingAndGlyphs">0.00</text>
<rect x="549.3" y="212.8" width="32.2" height="19.3" fill="#5a5a5a"/>
<rect x="551.2" y="215" width="28.5" height="6.3" fill="#040404"/>
<rect x="551.2" y="223.4" width="28.5" height="6.4" fill="#040404"/>
<text x="570.7" y="220.6" font-size="6.2" fill="#c0c0c0" text-anchor="end" textLength="8.2" lengthAdjust="spacingAndGlyphs">0.0</text>
<text x="571" y="228.8" font-size="6.2" fill="#c0c0c0" text-anchor="end" textLength="11.3" lengthAdjust="spacingAndGlyphs">0.00</text>
<rect x="582.22" y="212.8" width="32.2" height="19.3" fill="#5a5a5a"/>
<rect x="584.12" y="215" width="28.5" height="6.3" fill="#040404"/>
<rect x="584.12" y="223.4" width="28.5" height="6.4" fill="#040404"/>
<text x="603.62" y="220.6" font-size="6.2" fill="#c0c0c0" text-anchor="end" textLength="8.2" lengthAdjust="spacingAndGlyphs">0.0</text>
<text x="603.92" y="228.8" font-size="6.2" fill="#c0c0c0" text-anchor="end" textLength="11.3" lengthAdjust="spacingAndGlyphs">0.00</text>
<rect x="158" y="233.02" width="49" height="19.32" fill="#6c6c6c"/>
<text x="213.2" y="245.72" font-size="7.4" fill="#e4e4e4" stroke="#e4e4e4" stroke-width="0.35" text-anchor="middle">7</text>
<rect x="220.1" y="233.42" width="32.2" height="19.3" fill="#4a98c4"/>
<rect x="222" y="235.62" width="28.5" height="6.3" fill="#040404"/>
<rect x="222" y="244.02" width="28.5" height="6.4" fill="#040404"/>
<text x="241.5" y="241.22" font-size="6.2" fill="#f2f2f2" text-anchor="end" textLength="8.2" lengthAdjust="spacingAndGlyphs">0.0</text>
<text x="241.8" y="249.42" font-size="6.2" fill="#f2f2f2" text-anchor="end" textLength="11.3" lengthAdjust="spacingAndGlyphs">0.00</text>
<rect x="253.02" y="233.42" width="32.2" height="19.3" fill="#4a98c4"/>
<rect x="254.92" y="235.62" width="28.5" height="6.3" fill="#040404"/>
<rect x="254.92" y="244.02" width="28.5" height="6.4" fill="#040404"/>
<text x="274.42" y="241.22" font-size="6.2" fill="#f2f2f2" text-anchor="end" textLength="8.2" lengthAdjust="spacingAndGlyphs">0.0</text>
<text x="274.72" y="249.42" font-size="6.2" fill="#f2f2f2" text-anchor="end" textLength="11.3" lengthAdjust="spacingAndGlyphs">0.00</text>
<rect x="285.94" y="233.42" width="32.2" height="19.3" fill="#5a5a5a"/>
<rect x="287.84" y="235.62" width="28.5" height="6.3" fill="#040404"/>
<rect x="287.84" y="244.02" width="28.5" height="6.4" fill="#040404"/>
<text x="307.34" y="241.22" font-size="6.2" fill="#c0c0c0" text-anchor="end" textLength="8.2" lengthAdjust="spacingAndGlyphs">0.0</text>
<text x="307.64" y="249.42" font-size="6.2" fill="#c0c0c0" text-anchor="end" textLength="11.3" lengthAdjust="spacingAndGlyphs">0.00</text>
<rect x="318.86" y="233.42" width="32.2" height="19.3" fill="#4a98c4"/>
<rect x="320.76" y="235.62" width="28.5" height="6.3" fill="#040404"/>
<rect x="320.76" y="244.02" width="28.5" height="6.4" fill="#040404"/>
<text x="340.26" y="241.22" font-size="6.2" fill="#f2f2f2" text-anchor="end" textLength="8.2" lengthAdjust="spacingAndGlyphs">0.0</text>
<text x="340.56" y="249.42" font-size="6.2" fill="#f2f2f2" text-anchor="end" textLength="11.3" lengthAdjust="spacingAndGlyphs">0.00</text>
<rect x="351.78" y="233.42" width="32.2" height="19.3" fill="#5a5a5a"/>
<rect x="353.68" y="235.62" width="28.5" height="6.3" fill="#040404"/>
<rect x="353.68" y="244.02" width="28.5" height="6.4" fill="#040404"/>
<text x="373.18" y="241.22" font-size="6.2" fill="#c0c0c0" text-anchor="end" textLength="8.2" lengthAdjust="spacingAndGlyphs">0.0</text>
<text x="373.48" y="249.42" font-size="6.2" fill="#c0c0c0" text-anchor="end" textLength="11.3" lengthAdjust="spacingAndGlyphs">0.00</text>
<rect x="384.7" y="233.42" width="32.2" height="19.3" fill="#5a5a5a"/>
<rect x="386.6" y="235.62" width="28.5" height="6.3" fill="#040404"/>
<rect x="386.6" y="244.02" width="28.5" height="6.4" fill="#040404"/>
<text x="406.1" y="241.22" font-size="6.2" fill="#c0c0c0" text-anchor="end" textLength="8.2" lengthAdjust="spacingAndGlyphs">0.0</text>
<text x="406.4" y="249.42" font-size="6.2" fill="#c0c0c0" text-anchor="end" textLength="11.3" lengthAdjust="spacingAndGlyphs">0.00</text>
<rect x="417.62" y="233.42" width="32.2" height="19.3" fill="#4a98c4"/>
<rect x="419.52" y="235.62" width="28.5" height="6.3" fill="#040404"/>
<rect x="419.52" y="244.02" width="28.5" height="6.4" fill="#040404"/>
<text x="439.02" y="241.22" font-size="6.2" fill="#f2f2f2" text-anchor="end" textLength="8.2" lengthAdjust="spacingAndGlyphs">0.0</text>
<text x="439.32" y="249.42" font-size="6.2" fill="#f2f2f2" text-anchor="end" textLength="11.3" lengthAdjust="spacingAndGlyphs">0.00</text>
<rect x="450.54" y="233.42" width="32.2" height="19.3" fill="#5a5a5a"/>
<rect x="452.44" y="235.62" width="28.5" height="6.3" fill="#040404"/>
<rect x="452.44" y="244.02" width="28.5" height="6.4" fill="#040404"/>
<text x="471.94" y="241.22" font-size="6.2" fill="#c0c0c0" text-anchor="end" textLength="8.2" lengthAdjust="spacingAndGlyphs">0.0</text>
<text x="472.24" y="249.42" font-size="6.2" fill="#c0c0c0" text-anchor="end" textLength="11.3" lengthAdjust="spacingAndGlyphs">0.00</text>
<rect x="483.46" y="233.42" width="32.2" height="19.3" fill="#5a5a5a"/>
<rect x="485.36" y="235.62" width="28.5" height="6.3" fill="#040404"/>
<rect x="485.36" y="244.02" width="28.5" height="6.4" fill="#040404"/>
<text x="504.86" y="241.22" font-size="6.2" fill="#c0c0c0" text-anchor="end" textLength="8.2" lengthAdjust="spacingAndGlyphs">0.0</text>
<text x="505.16" y="249.42" font-size="6.2" fill="#c0c0c0" text-anchor="end" textLength="11.3" lengthAdjust="spacingAndGlyphs">0.00</text>
<rect x="516.38" y="233.42" width="32.2" height="19.3" fill="#5a5a5a"/>
<rect x="518.28" y="235.62" width="28.5" height="6.3" fill="#040404"/>
<rect x="518.28" y="244.02" width="28.5" height="6.4" fill="#040404"/>
<text x="537.78" y="241.22" font-size="6.2" fill="#c0c0c0" text-anchor="end" textLength="8.2" lengthAdjust="spacingAndGlyphs">0.0</text>
<text x="538.08" y="249.42" font-size="6.2" fill="#c0c0c0" text-anchor="end" textLength="11.3" lengthAdjust="spacingAndGlyphs">0.00</text>
<rect x="549.3" y="233.42" width="32.2" height="19.3" fill="#5a5a5a"/>
<rect x="551.2" y="235.62" width="28.5" height="6.3" fill="#040404"/>
<rect x="551.2" y="244.02" width="28.5" height="6.4" fill="#040404"/>
<text x="570.7" y="241.22" font-size="6.2" fill="#c0c0c0" text-anchor="end" textLength="8.2" lengthAdjust="spacingAndGlyphs">0.0</text>
<text x="571" y="249.42" font-size="6.2" fill="#c0c0c0" text-anchor="end" textLength="11.3" lengthAdjust="spacingAndGlyphs">0.00</text>
<rect x="582.22" y="233.42" width="32.2" height="19.3" fill="#5a5a5a"/>
<rect x="584.12" y="235.62" width="28.5" height="6.3" fill="#040404"/>
<rect x="584.12" y="244.02" width="28.5" height="6.4" fill="#040404"/>
<text x="603.62" y="241.22" font-size="6.2" fill="#c0c0c0" text-anchor="end" textLength="8.2" lengthAdjust="spacingAndGlyphs">0.0</text>
<text x="603.92" y="249.42" font-size="6.2" fill="#c0c0c0" text-anchor="end" textLength="11.3" lengthAdjust="spacingAndGlyphs">0.00</text>
<rect x="158" y="253.64" width="49" height="19.32" fill="#6c6c6c"/>
<text x="213.2" y="266.34" font-size="7.4" fill="#e4e4e4" stroke="#e4e4e4" stroke-width="0.35" text-anchor="middle">8</text>
<rect x="220.1" y="254.04" width="32.2" height="19.3" fill="#4a98c4"/>
<rect x="222" y="256.24" width="28.5" height="6.3" fill="#040404"/>
<rect x="222" y="264.64" width="28.5" height="6.4" fill="#040404"/>
<text x="241.5" y="261.84" font-size="6.2" fill="#f2f2f2" text-anchor="end" textLength="8.2" lengthAdjust="spacingAndGlyphs">0.0</text>
<text x="241.8" y="270.04" font-size="6.2" fill="#f2f2f2" text-anchor="end" textLength="11.3" lengthAdjust="spacingAndGlyphs">0.00</text>
<rect x="253.02" y="254.04" width="32.2" height="19.3" fill="#5a5a5a"/>
<rect x="254.92" y="256.24" width="28.5" height="6.3" fill="#040404"/>
<rect x="254.92" y="264.64" width="28.5" height="6.4" fill="#040404"/>
<text x="274.42" y="261.84" font-size="6.2" fill="#c0c0c0" text-anchor="end" textLength="8.2" lengthAdjust="spacingAndGlyphs">0.0</text>
<text x="274.72" y="270.04" font-size="6.2" fill="#c0c0c0" text-anchor="end" textLength="11.3" lengthAdjust="spacingAndGlyphs">0.00</text>
<rect x="285.94" y="254.04" width="32.2" height="19.3" fill="#4a98c4"/>
<rect x="287.84" y="256.24" width="28.5" height="6.3" fill="#040404"/>
<rect x="287.84" y="264.64" width="28.5" height="6.4" fill="#040404"/>
<text x="307.34" y="261.84" font-size="6.2" fill="#f2f2f2" text-anchor="end" textLength="8.2" lengthAdjust="spacingAndGlyphs">0.0</text>
<text x="307.64" y="270.04" font-size="6.2" fill="#f2f2f2" text-anchor="end" textLength="11.3" lengthAdjust="spacingAndGlyphs">0.00</text>
<rect x="318.86" y="254.04" width="32.2" height="19.3" fill="#5a5a5a"/>
<rect x="320.76" y="256.24" width="28.5" height="6.3" fill="#040404"/>
<rect x="320.76" y="264.64" width="28.5" height="6.4" fill="#040404"/>
<text x="340.26" y="261.84" font-size="6.2" fill="#c0c0c0" text-anchor="end" textLength="8.2" lengthAdjust="spacingAndGlyphs">0.0</text>
<text x="340.56" y="270.04" font-size="6.2" fill="#c0c0c0" text-anchor="end" textLength="11.3" lengthAdjust="spacingAndGlyphs">0.00</text>
<rect x="351.78" y="254.04" width="32.2" height="19.3" fill="#4a98c4"/>
<rect x="353.68" y="256.24" width="28.5" height="6.3" fill="#040404"/>
<rect x="353.68" y="264.64" width="28.5" height="6.4" fill="#040404"/>
<text x="373.18" y="261.84" font-size="6.2" fill="#f2f2f2" text-anchor="end" textLength="8.2" lengthAdjust="spacingAndGlyphs">0.0</text>
<text x="373.48" y="270.04" font-size="6.2" fill="#f2f2f2" text-anchor="end" textLength="11.3" lengthAdjust="spacingAndGlyphs">0.00</text>
<rect x="384.7" y="254.04" width="32.2" height="19.3" fill="#4a98c4"/>
<rect x="386.6" y="256.24" width="28.5" height="6.3" fill="#040404"/>
<rect x="386.6" y="264.64" width="28.5" height="6.4" fill="#040404"/>
<text x="406.1" y="261.84" font-size="6.2" fill="#f2f2f2" text-anchor="end" textLength="8.2" lengthAdjust="spacingAndGlyphs">0.0</text>
<text x="406.4" y="270.04" font-size="6.2" fill="#f2f2f2" text-anchor="end" textLength="11.3" lengthAdjust="spacingAndGlyphs">0.00</text>
<rect x="417.62" y="254.04" width="32.2" height="19.3" fill="#4a98c4"/>
<rect x="419.52" y="256.24" width="28.5" height="6.3" fill="#040404"/>
<rect x="419.52" y="264.64" width="28.5" height="6.4" fill="#040404"/>
<text x="439.02" y="261.84" font-size="6.2" fill="#f2f2f2" text-anchor="end" textLength="8.2" lengthAdjust="spacingAndGlyphs">0.0</text>
<text x="439.32" y="270.04" font-size="6.2" fill="#f2f2f2" text-anchor="end" textLength="11.3" lengthAdjust="spacingAndGlyphs">0.00</text>
<rect x="450.54" y="254.04" width="32.2" height="19.3" fill="#5a5a5a"/>
<rect x="452.44" y="256.24" width="28.5" height="6.3" fill="#040404"/>
<rect x="452.44" y="264.64" width="28.5" height="6.4" fill="#040404"/>
<text x="471.94" y="261.84" font-size="6.2" fill="#c0c0c0" text-anchor="end" textLength="8.2" lengthAdjust="spacingAndGlyphs">0.0</text>
<text x="472.24" y="270.04" font-size="6.2" fill="#c0c0c0" text-anchor="end" textLength="11.3" lengthAdjust="spacingAndGlyphs">0.00</text>
<rect x="483.46" y="254.04" width="32.2" height="19.3" fill="#5a5a5a"/>
<rect x="485.36" y="256.24" width="28.5" height="6.3" fill="#040404"/>
<rect x="485.36" y="264.64" width="28.5" height="6.4" fill="#040404"/>
<text x="504.86" y="261.84" font-size="6.2" fill="#c0c0c0" text-anchor="end" textLength="8.2" lengthAdjust="spacingAndGlyphs">0.0</text>
<text x="505.16" y="270.04" font-size="6.2" fill="#c0c0c0" text-anchor="end" textLength="11.3" lengthAdjust="spacingAndGlyphs">0.00</text>
<rect x="516.38" y="254.04" width="32.2" height="19.3" fill="#5a5a5a"/>
<rect x="518.28" y="256.24" width="28.5" height="6.3" fill="#040404"/>
<rect x="518.28" y="264.64" width="28.5" height="6.4" fill="#040404"/>
<text x="537.78" y="261.84" font-size="6.2" fill="#c0c0c0" text-anchor="end" textLength="8.2" lengthAdjust="spacingAndGlyphs">0.0</text>
<text x="538.08" y="270.04" font-size="6.2" fill="#c0c0c0" text-anchor="end" textLength="11.3" lengthAdjust="spacingAndGlyphs">0.00</text>
<rect x="549.3" y="254.04" width="32.2" height="19.3" fill="#5a5a5a"/>
<rect x="551.2" y="256.24" width="28.5" height="6.3" fill="#040404"/>
<rect x="551.2" y="264.64" width="28.5" height="6.4" fill="#040404"/>
<text x="570.7" y="261.84" font-size="6.2" fill="#c0c0c0" text-anchor="end" textLength="8.2" lengthAdjust="spacingAndGlyphs">0.0</text>
<text x="571" y="270.04" font-size="6.2" fill="#c0c0c0" text-anchor="end" textLength="11.3" lengthAdjust="spacingAndGlyphs">0.00</text>
<rect x="582.22" y="254.04" width="32.2" height="19.3" fill="#5a5a5a"/>
<rect x="584.12" y="256.24" width="28.5" height="6.3" fill="#040404"/>
<rect x="584.12" y="264.64" width="28.5" height="6.4" fill="#040404"/>
<text x="603.62" y="261.84" font-size="6.2" fill="#c0c0c0" text-anchor="end" textLength="8.2" lengthAdjust="spacingAndGlyphs">0.0</text>
<text x="603.92" y="270.04" font-size="6.2" fill="#c0c0c0" text-anchor="end" textLength="11.3" lengthAdjust="spacingAndGlyphs">0.00</text>
<rect x="158" y="274.26" width="49" height="19.32" fill="#6c6c6c"/>
<text x="213.2" y="286.96" font-size="7.4" fill="#e4e4e4" stroke="#e4e4e4" stroke-width="0.35" text-anchor="middle">9</text>
<rect x="220.1" y="274.66" width="32.2" height="19.3" fill="#5a5a5a"/>
<rect x="222" y="276.86" width="28.5" height="6.3" fill="#040404"/>
<rect x="222" y="285.26" width="28.5" height="6.4" fill="#040404"/>
<text x="241.5" y="282.46" font-size="6.2" fill="#c0c0c0" text-anchor="end" textLength="8.2" lengthAdjust="spacingAndGlyphs">0.0</text>
<text x="241.8" y="290.66" font-size="6.2" fill="#c0c0c0" text-anchor="end" textLength="11.3" lengthAdjust="spacingAndGlyphs">0.00</text>
<rect x="253.02" y="274.66" width="32.2" height="19.3" fill="#4a98c4"/>
<rect x="254.92" y="276.86" width="28.5" height="6.3" fill="#040404"/>
<rect x="254.92" y="285.26" width="28.5" height="6.4" fill="#040404"/>
<text x="274.42" y="282.46" font-size="6.2" fill="#f2f2f2" text-anchor="end" textLength="8.2" lengthAdjust="spacingAndGlyphs">0.0</text>
<text x="274.72" y="290.66" font-size="6.2" fill="#f2f2f2" text-anchor="end" textLength="11.3" lengthAdjust="spacingAndGlyphs">0.00</text>
<rect x="285.94" y="274.66" width="32.2" height="19.3" fill="#4a98c4"/>
<rect x="287.84" y="276.86" width="28.5" height="6.3" fill="#040404"/>
<rect x="287.84" y="285.26" width="28.5" height="6.4" fill="#040404"/>
<text x="307.34" y="282.46" font-size="6.2" fill="#f2f2f2" text-anchor="end" textLength="8.2" lengthAdjust="spacingAndGlyphs">0.0</text>
<text x="307.64" y="290.66" font-size="6.2" fill="#f2f2f2" text-anchor="end" textLength="11.3" lengthAdjust="spacingAndGlyphs">0.00</text>
<rect x="318.86" y="274.66" width="32.2" height="19.3" fill="#5a5a5a"/>
<rect x="320.76" y="276.86" width="28.5" height="6.3" fill="#040404"/>
<rect x="320.76" y="285.26" width="28.5" height="6.4" fill="#040404"/>
<text x="340.26" y="282.46" font-size="6.2" fill="#c0c0c0" text-anchor="end" textLength="8.2" lengthAdjust="spacingAndGlyphs">0.0</text>
<text x="340.56" y="290.66" font-size="6.2" fill="#c0c0c0" text-anchor="end" textLength="11.3" lengthAdjust="spacingAndGlyphs">0.00</text>
<rect x="351.78" y="274.66" width="32.2" height="19.3" fill="#4a98c4"/>
<rect x="353.68" y="276.86" width="28.5" height="6.3" fill="#040404"/>
<rect x="353.68" y="285.26" width="28.5" height="6.4" fill="#040404"/>
<text x="373.18" y="282.46" font-size="6.2" fill="#f2f2f2" text-anchor="end" textLength="8.2" lengthAdjust="spacingAndGlyphs">0.0</text>
<text x="373.48" y="290.66" font-size="6.2" fill="#f2f2f2" text-anchor="end" textLength="11.3" lengthAdjust="spacingAndGlyphs">0.00</text>
<rect x="384.7" y="274.66" width="32.2" height="19.3" fill="#5a5a5a"/>
<rect x="386.6" y="276.86" width="28.5" height="6.3" fill="#040404"/>
<rect x="386.6" y="285.26" width="28.5" height="6.4" fill="#040404"/>
<text x="406.1" y="282.46" font-size="6.2" fill="#c0c0c0" text-anchor="end" textLength="8.2" lengthAdjust="spacingAndGlyphs">0.0</text>
<text x="406.4" y="290.66" font-size="6.2" fill="#c0c0c0" text-anchor="end" textLength="11.3" lengthAdjust="spacingAndGlyphs">0.00</text>
<rect x="417.62" y="274.66" width="32.2" height="19.3" fill="#4a98c4"/>
<rect x="419.52" y="276.86" width="28.5" height="6.3" fill="#040404"/>
<rect x="419.52" y="285.26" width="28.5" height="6.4" fill="#040404"/>
<text x="439.02" y="282.46" font-size="6.2" fill="#f2f2f2" text-anchor="end" textLength="8.2" lengthAdjust="spacingAndGlyphs">0.0</text>
<text x="439.32" y="290.66" font-size="6.2" fill="#f2f2f2" text-anchor="end" textLength="11.3" lengthAdjust="spacingAndGlyphs">0.00</text>
<rect x="450.54" y="274.66" width="32.2" height="19.3" fill="#5a5a5a"/>
<rect x="452.44" y="276.86" width="28.5" height="6.3" fill="#040404"/>
<rect x="452.44" y="285.26" width="28.5" height="6.4" fill="#040404"/>
<text x="471.94" y="282.46" font-size="6.2" fill="#c0c0c0" text-anchor="end" textLength="8.2" lengthAdjust="spacingAndGlyphs">0.0</text>
<text x="472.24" y="290.66" font-size="6.2" fill="#c0c0c0" text-anchor="end" textLength="11.3" lengthAdjust="spacingAndGlyphs">0.00</text>
<rect x="483.46" y="274.66" width="32.2" height="19.3" fill="#5a5a5a"/>
<rect x="485.36" y="276.86" width="28.5" height="6.3" fill="#040404"/>
<rect x="485.36" y="285.26" width="28.5" height="6.4" fill="#040404"/>
<text x="504.86" y="282.46" font-size="6.2" fill="#c0c0c0" text-anchor="end" textLength="8.2" lengthAdjust="spacingAndGlyphs">0.0</text>
<text x="505.16" y="290.66" font-size="6.2" fill="#c0c0c0" text-anchor="end" textLength="11.3" lengthAdjust="spacingAndGlyphs">0.00</text>
<rect x="516.38" y="274.66" width="32.2" height="19.3" fill="#5a5a5a"/>
<rect x="518.28" y="276.86" width="28.5" height="6.3" fill="#040404"/>
<rect x="518.28" y="285.26" width="28.5" height="6.4" fill="#040404"/>
<text x="537.78" y="282.46" font-size="6.2" fill="#c0c0c0" text-anchor="end" textLength="8.2" lengthAdjust="spacingAndGlyphs">0.0</text>
<text x="538.08" y="290.66" font-size="6.2" fill="#c0c0c0" text-anchor="end" textLength="11.3" lengthAdjust="spacingAndGlyphs">0.00</text>
<rect x="549.3" y="274.66" width="32.2" height="19.3" fill="#5a5a5a"/>
<rect x="551.2" y="276.86" width="28.5" height="6.3" fill="#040404"/>
<rect x="551.2" y="285.26" width="28.5" height="6.4" fill="#040404"/>
<text x="570.7" y="282.46" font-size="6.2" fill="#c0c0c0" text-anchor="end" textLength="8.2" lengthAdjust="spacingAndGlyphs">0.0</text>
<text x="571" y="290.66" font-size="6.2" fill="#c0c0c0" text-anchor="end" textLength="11.3" lengthAdjust="spacingAndGlyphs">0.00</text>
<rect x="582.22" y="274.66" width="32.2" height="19.3" fill="#5a5a5a"/>
<rect x="584.12" y="276.86" width="28.5" height="6.3" fill="#040404"/>
<rect x="584.12" y="285.26" width="28.5" height="6.4" fill="#040404"/>
<text x="603.62" y="282.46" font-size="6.2" fill="#c0c0c0" text-anchor="end" textLength="8.2" lengthAdjust="spacingAndGlyphs">0.0</text>
<text x="603.92" y="290.66" font-size="6.2" fill="#c0c0c0" text-anchor="end" textLength="11.3" lengthAdjust="spacingAndGlyphs">0.00</text>
<rect x="158" y="294.88" width="49" height="19.32" fill="#6c6c6c"/>
<text x="213.2" y="307.58" font-size="7.4" fill="#e4e4e4" stroke="#e4e4e4" stroke-width="0.35" text-anchor="middle">10</text>
<rect x="220.1" y="295.28" width="32.2" height="19.3" fill="#4a98c4"/>
<rect x="222" y="297.48" width="28.5" height="6.3" fill="#040404"/>
<rect x="222" y="305.88" width="28.5" height="6.4" fill="#040404"/>
<text x="241.5" y="303.08" font-size="6.2" fill="#f2f2f2" text-anchor="end" textLength="8.2" lengthAdjust="spacingAndGlyphs">0.0</text>
<text x="241.8" y="311.28" font-size="6.2" fill="#f2f2f2" text-anchor="end" textLength="11.3" lengthAdjust="spacingAndGlyphs">0.00</text>
<rect x="253.02" y="295.28" width="32.2" height="19.3" fill="#4a98c4"/>
<rect x="254.92" y="297.48" width="28.5" height="6.3" fill="#040404"/>
<rect x="254.92" y="305.88" width="28.5" height="6.4" fill="#040404"/>
<text x="274.42" y="303.08" font-size="6.2" fill="#f2f2f2" text-anchor="end" textLength="8.2" lengthAdjust="spacingAndGlyphs">0.0</text>
<text x="274.72" y="311.28" font-size="6.2" fill="#f2f2f2" text-anchor="end" textLength="11.3" lengthAdjust="spacingAndGlyphs">0.00</text>
<rect x="285.94" y="295.28" width="32.2" height="19.3" fill="#4a98c4"/>
<rect x="287.84" y="297.48" width="28.5" height="6.3" fill="#040404"/>
<rect x="287.84" y="305.88" width="28.5" height="6.4" fill="#040404"/>
<text x="307.34" y="303.08" font-size="6.2" fill="#f2f2f2" text-anchor="end" textLength="8.2" lengthAdjust="spacingAndGlyphs">0.0</text>
<text x="307.64" y="311.28" font-size="6.2" fill="#f2f2f2" text-anchor="end" textLength="11.3" lengthAdjust="spacingAndGlyphs">0.00</text>
<rect x="318.86" y="295.28" width="32.2" height="19.3" fill="#5a5a5a"/>
<rect x="320.76" y="297.48" width="28.5" height="6.3" fill="#040404"/>
<rect x="320.76" y="305.88" width="28.5" height="6.4" fill="#040404"/>
<text x="340.26" y="303.08" font-size="6.2" fill="#c0c0c0" text-anchor="end" textLength="8.2" lengthAdjust="spacingAndGlyphs">0.0</text>
<text x="340.56" y="311.28" font-size="6.2" fill="#c0c0c0" text-anchor="end" textLength="11.3" lengthAdjust="spacingAndGlyphs">0.00</text>
<rect x="351.78" y="295.28" width="32.2" height="19.3" fill="#5a5a5a"/>
<rect x="353.68" y="297.48" width="28.5" height="6.3" fill="#040404"/>
<rect x="353.68" y="305.88" width="28.5" height="6.4" fill="#040404"/>
<text x="373.18" y="303.08" font-size="6.2" fill="#c0c0c0" text-anchor="end" textLength="8.2" lengthAdjust="spacingAndGlyphs">0.0</text>
<text x="373.48" y="311.28" font-size="6.2" fill="#c0c0c0" text-anchor="end" textLength="11.3" lengthAdjust="spacingAndGlyphs">0.00</text>
<rect x="384.7" y="295.28" width="32.2" height="19.3" fill="#5a5a5a"/>
<rect x="386.6" y="297.48" width="28.5" height="6.3" fill="#040404"/>
<rect x="386.6" y="305.88" width="28.5" height="6.4" fill="#040404"/>
<text x="406.1" y="303.08" font-size="6.2" fill="#c0c0c0" text-anchor="end" textLength="8.2" lengthAdjust="spacingAndGlyphs">0.0</text>
<text x="406.4" y="311.28" font-size="6.2" fill="#c0c0c0" text-anchor="end" textLength="11.3" lengthAdjust="spacingAndGlyphs">0.00</text>
<rect x="417.62" y="295.28" width="32.2" height="19.3" fill="#5a5a5a"/>
<rect x="419.52" y="297.48" width="28.5" height="6.3" fill="#040404"/>
<rect x="419.52" y="305.88" width="28.5" height="6.4" fill="#040404"/>
<text x="439.02" y="303.08" font-size="6.2" fill="#c0c0c0" text-anchor="end" textLength="8.2" lengthAdjust="spacingAndGlyphs">0.0</text>
<text x="439.32" y="311.28" font-size="6.2" fill="#c0c0c0" text-anchor="end" textLength="11.3" lengthAdjust="spacingAndGlyphs">0.00</text>
<rect x="450.54" y="295.28" width="32.2" height="19.3" fill="#4a98c4"/>
<rect x="452.44" y="297.48" width="28.5" height="6.3" fill="#040404"/>
<rect x="452.44" y="305.88" width="28.5" height="6.4" fill="#040404"/>
<text x="471.94" y="303.08" font-size="6.2" fill="#f2f2f2" text-anchor="end" textLength="8.2" lengthAdjust="spacingAndGlyphs">0.0</text>
<text x="472.24" y="311.28" font-size="6.2" fill="#f2f2f2" text-anchor="end" textLength="11.3" lengthAdjust="spacingAndGlyphs">0.00</text>
<rect x="483.46" y="295.28" width="32.2" height="19.3" fill="#5a5a5a"/>
<rect x="485.36" y="297.48" width="28.5" height="6.3" fill="#040404"/>
<rect x="485.36" y="305.88" width="28.5" height="6.4" fill="#040404"/>
<text x="504.86" y="303.08" font-size="6.2" fill="#c0c0c0" text-anchor="end" textLength="8.2" lengthAdjust="spacingAndGlyphs">0.0</text>
<text x="505.16" y="311.28" font-size="6.2" fill="#c0c0c0" text-anchor="end" textLength="11.3" lengthAdjust="spacingAndGlyphs">0.00</text>
<rect x="516.38" y="295.28" width="32.2" height="19.3" fill="#5a5a5a"/>
<rect x="518.28" y="297.48" width="28.5" height="6.3" fill="#040404"/>
<rect x="518.28" y="305.88" width="28.5" height="6.4" fill="#040404"/>
<text x="537.78" y="303.08" font-size="6.2" fill="#c0c0c0" text-anchor="end" textLength="8.2" lengthAdjust="spacingAndGlyphs">0.0</text>
<text x="538.08" y="311.28" font-size="6.2" fill="#c0c0c0" text-anchor="end" textLength="11.3" lengthAdjust="spacingAndGlyphs">0.00</text>
<rect x="549.3" y="295.28" width="32.2" height="19.3" fill="#5a5a5a"/>
<rect x="551.2" y="297.48" width="28.5" height="6.3" fill="#040404"/>
<rect x="551.2" y="305.88" width="28.5" height="6.4" fill="#040404"/>
<text x="570.7" y="303.08" font-size="6.2" fill="#c0c0c0" text-anchor="end" textLength="8.2" lengthAdjust="spacingAndGlyphs">0.0</text>
<text x="571" y="311.28" font-size="6.2" fill="#c0c0c0" text-anchor="end" textLength="11.3" lengthAdjust="spacingAndGlyphs">0.00</text>
<rect x="582.22" y="295.28" width="32.2" height="19.3" fill="#5a5a5a"/>
<rect x="584.12" y="297.48" width="28.5" height="6.3" fill="#040404"/>
<rect x="584.12" y="305.88" width="28.5" height="6.4" fill="#040404"/>
<text x="603.62" y="303.08" font-size="6.2" fill="#c0c0c0" text-anchor="end" textLength="8.2" lengthAdjust="spacingAndGlyphs">0.0</text>
<text x="603.92" y="311.28" font-size="6.2" fill="#c0c0c0" text-anchor="end" textLength="11.3" lengthAdjust="spacingAndGlyphs">0.00</text>
<rect x="158" y="315.5" width="49" height="19.32" fill="#6c6c6c"/>
<text x="213.2" y="328.2" font-size="7.4" fill="#e4e4e4" stroke="#e4e4e4" stroke-width="0.35" text-anchor="middle">11</text>
<rect x="220.1" y="315.9" width="32.2" height="19.3" fill="#4a98c4"/>
<rect x="222" y="318.1" width="28.5" height="6.3" fill="#040404"/>
<rect x="222" y="326.5" width="28.5" height="6.4" fill="#040404"/>
<text x="241.5" y="323.7" font-size="6.2" fill="#f2f2f2" text-anchor="end" textLength="8.2" lengthAdjust="spacingAndGlyphs">0.0</text>
<text x="241.8" y="331.9" font-size="6.2" fill="#f2f2f2" text-anchor="end" textLength="11.3" lengthAdjust="spacingAndGlyphs">0.00</text>
<rect x="253.02" y="315.9" width="32.2" height="19.3" fill="#4a98c4"/>
<rect x="254.92" y="318.1" width="28.5" height="6.3" fill="#040404"/>
<rect x="254.92" y="326.5" width="28.5" height="6.4" fill="#040404"/>
<text x="274.42" y="323.7" font-size="6.2" fill="#f2f2f2" text-anchor="end" textLength="8.2" lengthAdjust="spacingAndGlyphs">0.0</text>
<text x="274.72" y="331.9" font-size="6.2" fill="#f2f2f2" text-anchor="end" textLength="11.3" lengthAdjust="spacingAndGlyphs">0.00</text>
<rect x="285.94" y="315.9" width="32.2" height="19.3" fill="#4a98c4"/>
<rect x="287.84" y="318.1" width="28.5" height="6.3" fill="#040404"/>
<rect x="287.84" y="326.5" width="28.5" height="6.4" fill="#040404"/>
<text x="307.34" y="323.7" font-size="6.2" fill="#f2f2f2" text-anchor="end" textLength="8.2" lengthAdjust="spacingAndGlyphs">0.0</text>
<text x="307.64" y="331.9" font-size="6.2" fill="#f2f2f2" text-anchor="end" textLength="11.3" lengthAdjust="spacingAndGlyphs">0.00</text>
<rect x="318.86" y="315.9" width="32.2" height="19.3" fill="#4a98c4"/>
<rect x="320.76" y="318.1" width="28.5" height="6.3" fill="#040404"/>
<rect x="320.76" y="326.5" width="28.5" height="6.4" fill="#040404"/>
<text x="340.26" y="323.7" font-size="6.2" fill="#f2f2f2" text-anchor="end" textLength="8.2" lengthAdjust="spacingAndGlyphs">0.0</text>
<text x="340.56" y="331.9" font-size="6.2" fill="#f2f2f2" text-anchor="end" textLength="11.3" lengthAdjust="spacingAndGlyphs">0.00</text>
<rect x="351.78" y="315.9" width="32.2" height="19.3" fill="#5a5a5a"/>
<rect x="353.68" y="318.1" width="28.5" height="6.3" fill="#040404"/>
<rect x="353.68" y="326.5" width="28.5" height="6.4" fill="#040404"/>
<text x="373.18" y="323.7" font-size="6.2" fill="#c0c0c0" text-anchor="end" textLength="8.2" lengthAdjust="spacingAndGlyphs">0.0</text>
<text x="373.48" y="331.9" font-size="6.2" fill="#c0c0c0" text-anchor="end" textLength="11.3" lengthAdjust="spacingAndGlyphs">0.00</text>
<rect x="384.7" y="315.9" width="32.2" height="19.3" fill="#4a98c4"/>
<rect x="386.6" y="318.1" width="28.5" height="6.3" fill="#040404"/>
<rect x="386.6" y="326.5" width="28.5" height="6.4" fill="#040404"/>
<text x="406.1" y="323.7" font-size="6.2" fill="#f2f2f2" text-anchor="end" textLength="8.2" lengthAdjust="spacingAndGlyphs">0.0</text>
<text x="406.4" y="331.9" font-size="6.2" fill="#f2f2f2" text-anchor="end" textLength="11.3" lengthAdjust="spacingAndGlyphs">0.00</text>
<rect x="417.62" y="315.9" width="32.2" height="19.3" fill="#5a5a5a"/>
<rect x="419.52" y="318.1" width="28.5" height="6.3" fill="#040404"/>
<rect x="419.52" y="326.5" width="28.5" height="6.4" fill="#040404"/>
<text x="439.02" y="323.7" font-size="6.2" fill="#c0c0c0" text-anchor="end" textLength="8.2" lengthAdjust="spacingAndGlyphs">0.0</text>
<text x="439.32" y="331.9" font-size="6.2" fill="#c0c0c0" text-anchor="end" textLength="11.3" lengthAdjust="spacingAndGlyphs">0.00</text>
<rect x="450.54" y="315.9" width="32.2" height="19.3" fill="#4a98c4"/>
<rect x="452.44" y="318.1" width="28.5" height="6.3" fill="#040404"/>
<rect x="452.44" y="326.5" width="28.5" height="6.4" fill="#040404"/>
<text x="471.94" y="323.7" font-size="6.2" fill="#f2f2f2" text-anchor="end" textLength="8.2" lengthAdjust="spacingAndGlyphs">0.0</text>
<text x="472.24" y="331.9" font-size="6.2" fill="#f2f2f2" text-anchor="end" textLength="11.3" lengthAdjust="spacingAndGlyphs">0.00</text>
<rect x="483.46" y="315.9" width="32.2" height="19.3" fill="#5a5a5a"/>
<rect x="485.36" y="318.1" width="28.5" height="6.3" fill="#040404"/>
<rect x="485.36" y="326.5" width="28.5" height="6.4" fill="#040404"/>
<text x="504.86" y="323.7" font-size="6.2" fill="#c0c0c0" text-anchor="end" textLength="8.2" lengthAdjust="spacingAndGlyphs">0.0</text>
<text x="505.16" y="331.9" font-size="6.2" fill="#c0c0c0" text-anchor="end" textLength="11.3" lengthAdjust="spacingAndGlyphs">0.00</text>
<rect x="516.38" y="315.9" width="32.2" height="19.3" fill="#5a5a5a"/>
<rect x="518.28" y="318.1" width="28.5" height="6.3" fill="#040404"/>
<rect x="518.28" y="326.5" width="28.5" height="6.4" fill="#040404"/>
<text x="537.78" y="323.7" font-size="6.2" fill="#c0c0c0" text-anchor="end" textLength="8.2" lengthAdjust="spacingAndGlyphs">0.0</text>
<text x="538.08" y="331.9" font-size="6.2" fill="#c0c0c0" text-anchor="end" textLength="11.3" lengthAdjust="spacingAndGlyphs">0.00</text>
<rect x="549.3" y="315.9" width="32.2" height="19.3" fill="#5a5a5a"/>
<rect x="551.2" y="318.1" width="28.5" height="6.3" fill="#040404"/>
<rect x="551.2" y="326.5" width="28.5" height="6.4" fill="#040404"/>
<text x="570.7" y="323.7" font-size="6.2" fill="#c0c0c0" text-anchor="end" textLength="8.2" lengthAdjust="spacingAndGlyphs">0.0</text>
<text x="571" y="331.9" font-size="6.2" fill="#c0c0c0" text-anchor="end" textLength="11.3" lengthAdjust="spacingAndGlyphs">0.00</text>
<rect x="582.22" y="315.9" width="32.2" height="19.3" fill="#5a5a5a"/>
<rect x="584.12" y="318.1" width="28.5" height="6.3" fill="#040404"/>
<rect x="584.12" y="326.5" width="28.5" height="6.4" fill="#040404"/>
<text x="603.62" y="323.7" font-size="6.2" fill="#c0c0c0" text-anchor="end" textLength="8.2" lengthAdjust="spacingAndGlyphs">0.0</text>
<text x="603.92" y="331.9" font-size="6.2" fill="#c0c0c0" text-anchor="end" textLength="11.3" lengthAdjust="spacingAndGlyphs">0.00</text>
<rect x="158" y="336.12" width="49" height="19.32" fill="#6c6c6c"/>
<text x="213.2" y="348.82" font-size="7.4" fill="#e4e4e4" stroke="#e4e4e4" stroke-width="0.35" text-anchor="middle">12</text>
<rect x="220.1" y="336.52" width="32.2" height="19.3" fill="#5a5a5a"/>
<rect x="222" y="338.72" width="28.5" height="6.3" fill="#040404"/>
<rect x="222" y="347.12" width="28.5" height="6.4" fill="#040404"/>
<text x="241.5" y="344.32" font-size="6.2" fill="#c0c0c0" text-anchor="end" textLength="8.2" lengthAdjust="spacingAndGlyphs">0.0</text>
<text x="241.8" y="352.52" font-size="6.2" fill="#c0c0c0" text-anchor="end" textLength="11.3" lengthAdjust="spacingAndGlyphs">0.00</text>
<rect x="253.02" y="336.52" width="32.2" height="19.3" fill="#5a5a5a"/>
<rect x="254.92" y="338.72" width="28.5" height="6.3" fill="#040404"/>
<rect x="254.92" y="347.12" width="28.5" height="6.4" fill="#040404"/>
<text x="274.42" y="344.32" font-size="6.2" fill="#c0c0c0" text-anchor="end" textLength="8.2" lengthAdjust="spacingAndGlyphs">0.0</text>
<text x="274.72" y="352.52" font-size="6.2" fill="#c0c0c0" text-anchor="end" textLength="11.3" lengthAdjust="spacingAndGlyphs">0.00</text>
<rect x="285.94" y="336.52" width="32.2" height="19.3" fill="#5a5a5a"/>
<rect x="287.84" y="338.72" width="28.5" height="6.3" fill="#040404"/>
<rect x="287.84" y="347.12" width="28.5" height="6.4" fill="#040404"/>
<text x="307.34" y="344.32" font-size="6.2" fill="#c0c0c0" text-anchor="end" textLength="8.2" lengthAdjust="spacingAndGlyphs">0.0</text>
<text x="307.64" y="352.52" font-size="6.2" fill="#c0c0c0" text-anchor="end" textLength="11.3" lengthAdjust="spacingAndGlyphs">0.00</text>
<rect x="318.86" y="336.52" width="32.2" height="19.3" fill="#4a98c4"/>
<rect x="320.76" y="338.72" width="28.5" height="6.3" fill="#040404"/>
<rect x="320.76" y="347.12" width="28.5" height="6.4" fill="#040404"/>
<text x="340.26" y="344.32" font-size="6.2" fill="#f2f2f2" text-anchor="end" textLength="8.2" lengthAdjust="spacingAndGlyphs">0.0</text>
<text x="340.56" y="352.52" font-size="6.2" fill="#f2f2f2" text-anchor="end" textLength="11.3" lengthAdjust="spacingAndGlyphs">0.00</text>
<rect x="351.78" y="336.52" width="32.2" height="19.3" fill="#5a5a5a"/>
<rect x="353.68" y="338.72" width="28.5" height="6.3" fill="#040404"/>
<rect x="353.68" y="347.12" width="28.5" height="6.4" fill="#040404"/>
<text x="373.18" y="344.32" font-size="6.2" fill="#c0c0c0" text-anchor="end" textLength="8.2" lengthAdjust="spacingAndGlyphs">0.0</text>
<text x="373.48" y="352.52" font-size="6.2" fill="#c0c0c0" text-anchor="end" textLength="11.3" lengthAdjust="spacingAndGlyphs">0.00</text>
<rect x="384.7" y="336.52" width="32.2" height="19.3" fill="#4a98c4"/>
<rect x="386.6" y="338.72" width="28.5" height="6.3" fill="#040404"/>
<rect x="386.6" y="347.12" width="28.5" height="6.4" fill="#040404"/>
<text x="406.1" y="344.32" font-size="6.2" fill="#f2f2f2" text-anchor="end" textLength="8.2" lengthAdjust="spacingAndGlyphs">0.0</text>
<text x="406.4" y="352.52" font-size="6.2" fill="#f2f2f2" text-anchor="end" textLength="11.3" lengthAdjust="spacingAndGlyphs">0.00</text>
<rect x="417.62" y="336.52" width="32.2" height="19.3" fill="#5a5a5a"/>
<rect x="419.52" y="338.72" width="28.5" height="6.3" fill="#040404"/>
<rect x="419.52" y="347.12" width="28.5" height="6.4" fill="#040404"/>
<text x="439.02" y="344.32" font-size="6.2" fill="#c0c0c0" text-anchor="end" textLength="8.2" lengthAdjust="spacingAndGlyphs">0.0</text>
<text x="439.32" y="352.52" font-size="6.2" fill="#c0c0c0" text-anchor="end" textLength="11.3" lengthAdjust="spacingAndGlyphs">0.00</text>
<rect x="450.54" y="336.52" width="32.2" height="19.3" fill="#4a98c4"/>
<rect x="452.44" y="338.72" width="28.5" height="6.3" fill="#040404"/>
<rect x="452.44" y="347.12" width="28.5" height="6.4" fill="#040404"/>
<text x="471.94" y="344.32" font-size="6.2" fill="#f2f2f2" text-anchor="end" textLength="8.2" lengthAdjust="spacingAndGlyphs">0.0</text>
<text x="472.24" y="352.52" font-size="6.2" fill="#f2f2f2" text-anchor="end" textLength="11.3" lengthAdjust="spacingAndGlyphs">0.00</text>
<rect x="483.46" y="336.52" width="32.2" height="19.3" fill="#5a5a5a"/>
<rect x="485.36" y="338.72" width="28.5" height="6.3" fill="#040404"/>
<rect x="485.36" y="347.12" width="28.5" height="6.4" fill="#040404"/>
<text x="504.86" y="344.32" font-size="6.2" fill="#c0c0c0" text-anchor="end" textLength="8.2" lengthAdjust="spacingAndGlyphs">0.0</text>
<text x="505.16" y="352.52" font-size="6.2" fill="#c0c0c0" text-anchor="end" textLength="11.3" lengthAdjust="spacingAndGlyphs">0.00</text>
<rect x="516.38" y="336.52" width="32.2" height="19.3" fill="#5a5a5a"/>
<rect x="518.28" y="338.72" width="28.5" height="6.3" fill="#040404"/>
<rect x="518.28" y="347.12" width="28.5" height="6.4" fill="#040404"/>
<text x="537.78" y="344.32" font-size="6.2" fill="#c0c0c0" text-anchor="end" textLength="8.2" lengthAdjust="spacingAndGlyphs">0.0</text>
<text x="538.08" y="352.52" font-size="6.2" fill="#c0c0c0" text-anchor="end" textLength="11.3" lengthAdjust="spacingAndGlyphs">0.00</text>
<rect x="549.3" y="336.52" width="32.2" height="19.3" fill="#5a5a5a"/>
<rect x="551.2" y="338.72" width="28.5" height="6.3" fill="#040404"/>
<rect x="551.2" y="347.12" width="28.5" height="6.4" fill="#040404"/>
<text x="570.7" y="344.32" font-size="6.2" fill="#c0c0c0" text-anchor="end" textLength="8.2" lengthAdjust="spacingAndGlyphs">0.0</text>
<text x="571" y="352.52" font-size="6.2" fill="#c0c0c0" text-anchor="end" textLength="11.3" lengthAdjust="spacingAndGlyphs">0.00</text>
<rect x="582.22" y="336.52" width="32.2" height="19.3" fill="#5a5a5a"/>
<rect x="584.12" y="338.72" width="28.5" height="6.3" fill="#040404"/>
<rect x="584.12" y="347.12" width="28.5" height="6.4" fill="#040404"/>
<text x="603.62" y="344.32" font-size="6.2" fill="#c0c0c0" text-anchor="end" textLength="8.2" lengthAdjust="spacingAndGlyphs">0.0</text>
<text x="603.92" y="352.52" font-size="6.2" fill="#c0c0c0" text-anchor="end" textLength="11.3" lengthAdjust="spacingAndGlyphs">0.00</text>
<rect x="222.5" y="120.8" width="27.5" height="6.4" fill="none" stroke="#d8ecf6" stroke-width="1"/>
<rect x="614" y="36" width="8.5" height="320" fill="#161616"/>
<text x="618.4" y="117.6" font-size="5.5" font-weight="bold" fill="#c8c8c8" text-anchor="middle" textLength="6.5" lengthAdjust="spacingAndGlyphs">ms</text>
<text x="618.4" y="125.6" font-size="5.5" font-weight="bold" fill="#c8c8c8" text-anchor="middle" textLength="6.5" lengthAdjust="spacingAndGlyphs">dB</text>
<path d="M616 135.6 L618.3 132 L620.6 135.6 Z" fill="#a8a8a8"/>
<rect x="617" y="137.5" width="2.5" height="209" rx="1.2" fill="#999999"/>
<path d="M616.5 350 L621 350 L618.75 354 Z" fill="#a8a8a8"/>
<rect x="218.5" y="356" width="395.5" height="8" fill="#111111"/>
<rect x="228" y="358.9" width="376.5" height="1.9" rx="0.9" fill="#999999"/>
<path d="M222 360.5 L226 358.4 L226 362.6 Z" fill="#a8a8a8"/>
<path d="M608 358.2 L612 360.4 L608 362.6 Z" fill="#a8a8a8"/>
<rect x="614" y="356" width="8.5" height="7.8" fill="#2e2e2e"/>
</svg>
</body></html>
